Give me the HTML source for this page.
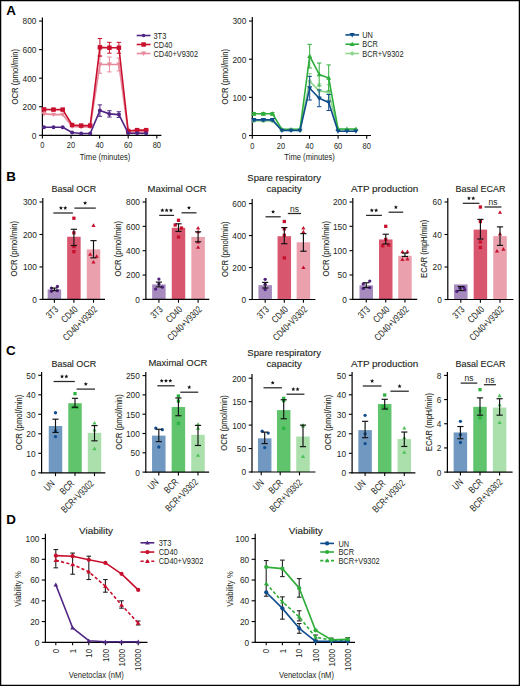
<!DOCTYPE html>
<html><head><meta charset="utf-8"><style>
html,body{margin:0;padding:0;background:#fff;width:520px;height:686px;overflow:hidden}
svg{display:block;font-family:"Liberation Sans", sans-serif}
</style></head><body>
<svg width="520" height="686" viewBox="0 0 520 686" font-family='"Liberation Sans", sans-serif'>
<rect x="0" y="0" width="520" height="686" fill="#fff"/>
<text transform="translate(6.3,10.6)" y="4.82" font-size="13.4" text-anchor="start" font-weight="bold" fill="#000">A</text>
<text transform="translate(6.3,176.5)" y="4.82" font-size="13.4" text-anchor="start" font-weight="bold" fill="#000">B</text>
<text transform="translate(6,350.6)" y="4.82" font-size="13.4" text-anchor="start" font-weight="bold" fill="#000">C</text>
<text transform="translate(6.3,519.3)" y="4.82" font-size="13.4" text-anchor="start" font-weight="bold" fill="#000">D</text>
<line x1="42.4" y1="17.4" x2="42.4" y2="135.85" stroke="#000" stroke-width="1.2" stroke-linecap="butt"/>
<line x1="41.8" y1="135.3" x2="161.4" y2="135.3" stroke="#000" stroke-width="1.2" stroke-linecap="butt"/>
<line x1="39.1" y1="135.3" x2="42.4" y2="135.3" stroke="#000" stroke-width="1.1" stroke-linecap="butt"/>
<text transform="translate(36.4,135.3)" y="3.4" font-size="8.3" text-anchor="end" fill="#231f20">0</text>
<line x1="39.1" y1="106.74" x2="42.4" y2="106.74" stroke="#000" stroke-width="1.1" stroke-linecap="butt"/>
<text transform="translate(36.4,106.74)" y="3.4" font-size="8.3" text-anchor="end" fill="#231f20">200</text>
<line x1="39.1" y1="78.18" x2="42.4" y2="78.18" stroke="#000" stroke-width="1.1" stroke-linecap="butt"/>
<text transform="translate(36.4,78.18)" y="3.4" font-size="8.3" text-anchor="end" fill="#231f20">400</text>
<line x1="39.1" y1="49.62" x2="42.4" y2="49.62" stroke="#000" stroke-width="1.1" stroke-linecap="butt"/>
<text transform="translate(36.4,49.62)" y="3.4" font-size="8.3" text-anchor="end" fill="#231f20">600</text>
<line x1="39.1" y1="21.06" x2="42.4" y2="21.06" stroke="#000" stroke-width="1.1" stroke-linecap="butt"/>
<text transform="translate(36.4,21.06)" y="3.4" font-size="8.3" text-anchor="end" fill="#231f20">800</text>
<line x1="42.4" y1="135.3" x2="42.4" y2="138.6" stroke="#000" stroke-width="1.1" stroke-linecap="butt"/>
<text transform="translate(42.4,145.4) scale(0.9,1)" y="2.99" font-size="8.3" text-anchor="middle" fill="#231f20">0</text>
<line x1="71" y1="135.3" x2="71" y2="138.6" stroke="#000" stroke-width="1.1" stroke-linecap="butt"/>
<text transform="translate(71,145.4) scale(0.9,1)" y="2.99" font-size="8.3" text-anchor="middle" fill="#231f20">20</text>
<line x1="99.6" y1="135.3" x2="99.6" y2="138.6" stroke="#000" stroke-width="1.1" stroke-linecap="butt"/>
<text transform="translate(99.6,145.4) scale(0.9,1)" y="2.99" font-size="8.3" text-anchor="middle" fill="#231f20">40</text>
<line x1="128.2" y1="135.3" x2="128.2" y2="138.6" stroke="#000" stroke-width="1.1" stroke-linecap="butt"/>
<text transform="translate(128.2,145.4) scale(0.9,1)" y="2.99" font-size="8.3" text-anchor="middle" fill="#231f20">60</text>
<line x1="156.8" y1="135.3" x2="156.8" y2="138.6" stroke="#000" stroke-width="1.1" stroke-linecap="butt"/>
<text transform="translate(156.8,145.4) scale(0.9,1)" y="2.99" font-size="8.3" text-anchor="middle" fill="#231f20">80</text>
<text transform="translate(105,160.1)" y="0" font-size="9.6" text-anchor="middle" textLength="50.5" lengthAdjust="spacingAndGlyphs" fill="#231f20">Time (minutes)</text>
<text transform="translate(14.6,76.75) rotate(-90)" y="3.24" font-size="9" text-anchor="middle" textLength="55.5" lengthAdjust="spacingAndGlyphs" fill="#231f20" stroke="#231f20" stroke-width="0.08">OCR (pmol/min)</text>
<line x1="99.9" y1="55.62" x2="99.9" y2="73.32" stroke="#e88a9c" stroke-width="1" stroke-linecap="butt"/>
<line x1="97.7" y1="55.62" x2="102.1" y2="55.62" stroke="#e88a9c" stroke-width="1" stroke-linecap="butt"/>
<line x1="97.7" y1="73.32" x2="102.1" y2="73.32" stroke="#e88a9c" stroke-width="1" stroke-linecap="butt"/>
<line x1="109.4" y1="57.05" x2="109.4" y2="71.9" stroke="#e88a9c" stroke-width="1" stroke-linecap="butt"/>
<line x1="107.2" y1="57.05" x2="111.6" y2="57.05" stroke="#e88a9c" stroke-width="1" stroke-linecap="butt"/>
<line x1="107.2" y1="71.9" x2="111.6" y2="71.9" stroke="#e88a9c" stroke-width="1" stroke-linecap="butt"/>
<line x1="118.9" y1="58.05" x2="118.9" y2="70.9" stroke="#e88a9c" stroke-width="1" stroke-linecap="butt"/>
<line x1="116.7" y1="58.05" x2="121.1" y2="58.05" stroke="#e88a9c" stroke-width="1" stroke-linecap="butt"/>
<line x1="116.7" y1="70.9" x2="121.1" y2="70.9" stroke="#e88a9c" stroke-width="1" stroke-linecap="butt"/>
<polyline points="44,113.88 53.5,114.59 62.7,114.59 72.1,126.45 81.2,127.02 90.2,127.02 99.9,64.47 109.4,64.47 118.9,64.47 128.2,132.44 137.1,131.73 146.1,131.73" fill="none" stroke="#e88a9c" stroke-width="1.6" stroke-linejoin="round"/>
<polygon points="44,116.39 41.45,112 46.55,112" fill="#e88a9c"/>
<polygon points="53.5,117.1 50.95,112.71 56.05,112.71" fill="#e88a9c"/>
<polygon points="62.7,117.1 60.15,112.71 65.25,112.71" fill="#e88a9c"/>
<polygon points="72.1,128.95 69.55,124.57 74.65,124.57" fill="#e88a9c"/>
<polygon points="81.2,129.53 78.65,125.14 83.75,125.14" fill="#e88a9c"/>
<polygon points="90.2,129.53 87.65,125.14 92.75,125.14" fill="#e88a9c"/>
<polygon points="99.9,66.98 97.35,62.59 102.45,62.59" fill="#e88a9c"/>
<polygon points="109.4,66.98 106.85,62.59 111.95,62.59" fill="#e88a9c"/>
<polygon points="118.9,66.98 116.35,62.59 121.45,62.59" fill="#e88a9c"/>
<polygon points="128.2,134.95 125.65,130.56 130.75,130.56" fill="#e88a9c"/>
<polygon points="137.1,134.24 134.55,129.85 139.65,129.85" fill="#e88a9c"/>
<polygon points="146.1,134.24 143.55,129.85 148.65,129.85" fill="#e88a9c"/>
<line x1="44" y1="108.31" x2="44" y2="110.6" stroke="#c8102e" stroke-width="1" stroke-linecap="butt"/>
<line x1="41.8" y1="108.31" x2="46.2" y2="108.31" stroke="#c8102e" stroke-width="1" stroke-linecap="butt"/>
<line x1="41.8" y1="110.6" x2="46.2" y2="110.6" stroke="#c8102e" stroke-width="1" stroke-linecap="butt"/>
<line x1="53.5" y1="108.88" x2="53.5" y2="110.31" stroke="#c8102e" stroke-width="1" stroke-linecap="butt"/>
<line x1="51.3" y1="108.88" x2="55.7" y2="108.88" stroke="#c8102e" stroke-width="1" stroke-linecap="butt"/>
<line x1="51.3" y1="110.31" x2="55.7" y2="110.31" stroke="#c8102e" stroke-width="1" stroke-linecap="butt"/>
<line x1="62.7" y1="108.88" x2="62.7" y2="110.31" stroke="#c8102e" stroke-width="1" stroke-linecap="butt"/>
<line x1="60.5" y1="108.88" x2="64.9" y2="108.88" stroke="#c8102e" stroke-width="1" stroke-linecap="butt"/>
<line x1="60.5" y1="110.31" x2="64.9" y2="110.31" stroke="#c8102e" stroke-width="1" stroke-linecap="butt"/>
<line x1="99.9" y1="38.48" x2="99.9" y2="56.19" stroke="#c8102e" stroke-width="1" stroke-linecap="butt"/>
<line x1="97.7" y1="38.48" x2="102.1" y2="38.48" stroke="#c8102e" stroke-width="1" stroke-linecap="butt"/>
<line x1="97.7" y1="56.19" x2="102.1" y2="56.19" stroke="#c8102e" stroke-width="1" stroke-linecap="butt"/>
<line x1="109.4" y1="42.34" x2="109.4" y2="53.19" stroke="#c8102e" stroke-width="1" stroke-linecap="butt"/>
<line x1="107.2" y1="42.34" x2="111.6" y2="42.34" stroke="#c8102e" stroke-width="1" stroke-linecap="butt"/>
<line x1="107.2" y1="53.19" x2="111.6" y2="53.19" stroke="#c8102e" stroke-width="1" stroke-linecap="butt"/>
<line x1="118.9" y1="42.34" x2="118.9" y2="53.19" stroke="#c8102e" stroke-width="1" stroke-linecap="butt"/>
<line x1="116.7" y1="42.34" x2="121.1" y2="42.34" stroke="#c8102e" stroke-width="1" stroke-linecap="butt"/>
<line x1="116.7" y1="53.19" x2="121.1" y2="53.19" stroke="#c8102e" stroke-width="1" stroke-linecap="butt"/>
<line x1="128.2" y1="130.3" x2="128.2" y2="131.73" stroke="#c8102e" stroke-width="1" stroke-linecap="butt"/>
<line x1="126" y1="130.3" x2="130.4" y2="130.3" stroke="#c8102e" stroke-width="1" stroke-linecap="butt"/>
<line x1="126" y1="131.73" x2="130.4" y2="131.73" stroke="#c8102e" stroke-width="1" stroke-linecap="butt"/>
<line x1="137.1" y1="129.59" x2="137.1" y2="130.73" stroke="#c8102e" stroke-width="1" stroke-linecap="butt"/>
<line x1="134.9" y1="129.59" x2="139.3" y2="129.59" stroke="#c8102e" stroke-width="1" stroke-linecap="butt"/>
<line x1="134.9" y1="130.73" x2="139.3" y2="130.73" stroke="#c8102e" stroke-width="1" stroke-linecap="butt"/>
<line x1="146.1" y1="129.59" x2="146.1" y2="130.73" stroke="#c8102e" stroke-width="1" stroke-linecap="butt"/>
<line x1="143.9" y1="129.59" x2="148.3" y2="129.59" stroke="#c8102e" stroke-width="1" stroke-linecap="butt"/>
<line x1="143.9" y1="130.73" x2="148.3" y2="130.73" stroke="#c8102e" stroke-width="1" stroke-linecap="butt"/>
<polyline points="44,109.45 53.5,109.6 62.7,109.6 72.1,125.02 81.2,125.59 90.2,125.59 99.9,47.34 109.4,47.76 118.9,47.76 128.2,131.02 137.1,130.16 146.1,130.16" fill="none" stroke="#c8102e" stroke-width="1.6" stroke-linejoin="round"/>
<rect x="41.75" y="107.2" width="4.5" height="4.5" fill="#c8102e"/>
<rect x="51.25" y="107.35" width="4.5" height="4.5" fill="#c8102e"/>
<rect x="60.45" y="107.35" width="4.5" height="4.5" fill="#c8102e"/>
<rect x="69.85" y="122.77" width="4.5" height="4.5" fill="#c8102e"/>
<rect x="78.95" y="123.34" width="4.5" height="4.5" fill="#c8102e"/>
<rect x="87.95" y="123.34" width="4.5" height="4.5" fill="#c8102e"/>
<rect x="97.65" y="45.09" width="4.5" height="4.5" fill="#c8102e"/>
<rect x="107.15" y="45.51" width="4.5" height="4.5" fill="#c8102e"/>
<rect x="116.65" y="45.51" width="4.5" height="4.5" fill="#c8102e"/>
<rect x="125.95" y="128.77" width="4.5" height="4.5" fill="#c8102e"/>
<rect x="134.85" y="127.91" width="4.5" height="4.5" fill="#c8102e"/>
<rect x="143.85" y="127.91" width="4.5" height="4.5" fill="#c8102e"/>
<line x1="99.9" y1="104.88" x2="99.9" y2="116.31" stroke="#4f2683" stroke-width="1" stroke-linecap="butt"/>
<line x1="97.7" y1="104.88" x2="102.1" y2="104.88" stroke="#4f2683" stroke-width="1" stroke-linecap="butt"/>
<line x1="97.7" y1="116.31" x2="102.1" y2="116.31" stroke="#4f2683" stroke-width="1" stroke-linecap="butt"/>
<line x1="109.4" y1="110.74" x2="109.4" y2="117.02" stroke="#4f2683" stroke-width="1" stroke-linecap="butt"/>
<line x1="107.2" y1="110.74" x2="111.6" y2="110.74" stroke="#4f2683" stroke-width="1" stroke-linecap="butt"/>
<line x1="107.2" y1="117.02" x2="111.6" y2="117.02" stroke="#4f2683" stroke-width="1" stroke-linecap="butt"/>
<line x1="118.9" y1="111.74" x2="118.9" y2="117.45" stroke="#4f2683" stroke-width="1" stroke-linecap="butt"/>
<line x1="116.7" y1="111.74" x2="121.1" y2="111.74" stroke="#4f2683" stroke-width="1" stroke-linecap="butt"/>
<line x1="116.7" y1="117.45" x2="121.1" y2="117.45" stroke="#4f2683" stroke-width="1" stroke-linecap="butt"/>
<polyline points="44,127.3 53.5,127.3 62.7,127.3 72.1,132.44 81.2,133.44 90.2,133.44 99.9,110.6 109.4,113.88 118.9,114.59 128.2,133.23 137.1,133.23 146.1,133.23" fill="none" stroke="#4f2683" stroke-width="1.6" stroke-linejoin="round"/>
<circle cx="44" cy="127.3" r="2" fill="#4f2683"/>
<circle cx="53.5" cy="127.3" r="2" fill="#4f2683"/>
<circle cx="62.7" cy="127.3" r="2" fill="#4f2683"/>
<circle cx="72.1" cy="132.44" r="2" fill="#4f2683"/>
<circle cx="81.2" cy="133.44" r="2" fill="#4f2683"/>
<circle cx="90.2" cy="133.44" r="2" fill="#4f2683"/>
<circle cx="99.9" cy="110.6" r="2" fill="#4f2683"/>
<circle cx="109.4" cy="113.88" r="2" fill="#4f2683"/>
<circle cx="118.9" cy="114.59" r="2" fill="#4f2683"/>
<circle cx="128.2" cy="133.23" r="2" fill="#4f2683"/>
<circle cx="137.1" cy="133.23" r="2" fill="#4f2683"/>
<circle cx="146.1" cy="133.23" r="2" fill="#4f2683"/>
<line x1="136.7" y1="35.5" x2="150.5" y2="35.5" stroke="#4f2683" stroke-width="1.6" stroke-linecap="butt"/>
<circle cx="143.6" cy="35.5" r="1.8" fill="#4f2683"/>
<text transform="translate(153.5,35.5) scale(0.86,1)" y="3.1" font-size="8.6" text-anchor="start" fill="#231f20">3T3</text>
<line x1="136.7" y1="44.5" x2="150.5" y2="44.5" stroke="#c8102e" stroke-width="1.6" stroke-linecap="butt"/>
<rect x="141.35" y="42.25" width="4.5" height="4.5" fill="#c8102e"/>
<text transform="translate(153.5,44.5) scale(0.86,1)" y="3.1" font-size="8.6" text-anchor="start" fill="#231f20">CD40</text>
<line x1="136.7" y1="53.5" x2="150.5" y2="53.5" stroke="#e88a9c" stroke-width="1.6" stroke-linecap="butt"/>
<polygon points="143.6,56.01 141.05,51.62 146.15,51.62" fill="#e88a9c"/>
<text transform="translate(153.5,53.5) scale(0.86,1)" y="3.1" font-size="8.6" text-anchor="start" fill="#231f20">CD40+V9302</text>
<line x1="252.3" y1="17.1" x2="252.3" y2="136.05" stroke="#000" stroke-width="1.2" stroke-linecap="butt"/>
<line x1="251.7" y1="135.5" x2="371" y2="135.5" stroke="#000" stroke-width="1.2" stroke-linecap="butt"/>
<line x1="249" y1="135.5" x2="252.3" y2="135.5" stroke="#000" stroke-width="1.1" stroke-linecap="butt"/>
<text transform="translate(246.3,135.5)" y="3.4" font-size="8.3" text-anchor="end" fill="#231f20">0</text>
<line x1="249" y1="97.35" x2="252.3" y2="97.35" stroke="#000" stroke-width="1.1" stroke-linecap="butt"/>
<text transform="translate(246.3,97.35)" y="3.4" font-size="8.3" text-anchor="end" fill="#231f20">100</text>
<line x1="249" y1="59.2" x2="252.3" y2="59.2" stroke="#000" stroke-width="1.1" stroke-linecap="butt"/>
<text transform="translate(246.3,59.2)" y="3.4" font-size="8.3" text-anchor="end" fill="#231f20">200</text>
<line x1="249" y1="21.05" x2="252.3" y2="21.05" stroke="#000" stroke-width="1.1" stroke-linecap="butt"/>
<text transform="translate(246.3,21.05)" y="3.4" font-size="8.3" text-anchor="end" fill="#231f20">300</text>
<line x1="252.3" y1="135.5" x2="252.3" y2="138.8" stroke="#000" stroke-width="1.1" stroke-linecap="butt"/>
<text transform="translate(252.3,145.6) scale(0.9,1)" y="2.99" font-size="8.3" text-anchor="middle" fill="#231f20">0</text>
<line x1="280.9" y1="135.5" x2="280.9" y2="138.8" stroke="#000" stroke-width="1.1" stroke-linecap="butt"/>
<text transform="translate(280.9,145.6) scale(0.9,1)" y="2.99" font-size="8.3" text-anchor="middle" fill="#231f20">20</text>
<line x1="309.5" y1="135.5" x2="309.5" y2="138.8" stroke="#000" stroke-width="1.1" stroke-linecap="butt"/>
<text transform="translate(309.5,145.6) scale(0.9,1)" y="2.99" font-size="8.3" text-anchor="middle" fill="#231f20">40</text>
<line x1="338.1" y1="135.5" x2="338.1" y2="138.8" stroke="#000" stroke-width="1.1" stroke-linecap="butt"/>
<text transform="translate(338.1,145.6) scale(0.9,1)" y="2.99" font-size="8.3" text-anchor="middle" fill="#231f20">60</text>
<line x1="366.7" y1="135.5" x2="366.7" y2="138.8" stroke="#000" stroke-width="1.1" stroke-linecap="butt"/>
<text transform="translate(366.7,145.6) scale(0.9,1)" y="2.99" font-size="8.3" text-anchor="middle" fill="#231f20">80</text>
<text transform="translate(309.6,160.1)" y="0" font-size="9.6" text-anchor="middle" textLength="50.5" lengthAdjust="spacingAndGlyphs" fill="#231f20">Time (minutes)</text>
<text transform="translate(224.5,76.75) rotate(-90)" y="3.24" font-size="9" text-anchor="middle" textLength="55.5" lengthAdjust="spacingAndGlyphs" fill="#231f20" stroke="#231f20" stroke-width="0.08">OCR (pmol/min)</text>
<line x1="309.7" y1="73.7" x2="309.7" y2="88.96" stroke="#8fd48f" stroke-width="1" stroke-linecap="butt"/>
<line x1="307.5" y1="73.7" x2="311.9" y2="73.7" stroke="#8fd48f" stroke-width="1" stroke-linecap="butt"/>
<line x1="307.5" y1="88.96" x2="311.9" y2="88.96" stroke="#8fd48f" stroke-width="1" stroke-linecap="butt"/>
<line x1="319.2" y1="84" x2="319.2" y2="97.73" stroke="#8fd48f" stroke-width="1" stroke-linecap="butt"/>
<line x1="317" y1="84" x2="321.4" y2="84" stroke="#8fd48f" stroke-width="1" stroke-linecap="butt"/>
<line x1="317" y1="97.73" x2="321.4" y2="97.73" stroke="#8fd48f" stroke-width="1" stroke-linecap="butt"/>
<line x1="328.7" y1="84.76" x2="328.7" y2="100.02" stroke="#8fd48f" stroke-width="1" stroke-linecap="butt"/>
<line x1="326.5" y1="84.76" x2="330.9" y2="84.76" stroke="#8fd48f" stroke-width="1" stroke-linecap="butt"/>
<line x1="326.5" y1="100.02" x2="330.9" y2="100.02" stroke="#8fd48f" stroke-width="1" stroke-linecap="butt"/>
<polyline points="253.8,121 263.3,121 272.5,121 281.9,130.16 291,130.16 300,130.16 309.7,81.33 319.2,90.86 328.7,92.39 338,129.78 346.9,129.78 355.9,129.78" fill="none" stroke="#8fd48f" stroke-width="1.6" stroke-linejoin="round"/>
<circle cx="253.8" cy="121" r="1.9" fill="#8fd48f"/>
<circle cx="263.3" cy="121" r="1.9" fill="#8fd48f"/>
<circle cx="272.5" cy="121" r="1.9" fill="#8fd48f"/>
<circle cx="281.9" cy="130.16" r="1.9" fill="#8fd48f"/>
<circle cx="291" cy="130.16" r="1.9" fill="#8fd48f"/>
<circle cx="300" cy="130.16" r="1.9" fill="#8fd48f"/>
<circle cx="309.7" cy="81.33" r="1.9" fill="#8fd48f"/>
<circle cx="319.2" cy="90.86" r="1.9" fill="#8fd48f"/>
<circle cx="328.7" cy="92.39" r="1.9" fill="#8fd48f"/>
<circle cx="338" cy="129.78" r="1.9" fill="#8fd48f"/>
<circle cx="346.9" cy="129.78" r="1.9" fill="#8fd48f"/>
<circle cx="355.9" cy="129.78" r="1.9" fill="#8fd48f"/>
<line x1="253.8" y1="112.61" x2="253.8" y2="114.9" stroke="#2fae3c" stroke-width="1" stroke-linecap="butt"/>
<line x1="251.6" y1="112.61" x2="256" y2="112.61" stroke="#2fae3c" stroke-width="1" stroke-linecap="butt"/>
<line x1="251.6" y1="114.9" x2="256" y2="114.9" stroke="#2fae3c" stroke-width="1" stroke-linecap="butt"/>
<line x1="263.3" y1="112.61" x2="263.3" y2="114.9" stroke="#2fae3c" stroke-width="1" stroke-linecap="butt"/>
<line x1="261.1" y1="112.61" x2="265.5" y2="112.61" stroke="#2fae3c" stroke-width="1" stroke-linecap="butt"/>
<line x1="261.1" y1="114.9" x2="265.5" y2="114.9" stroke="#2fae3c" stroke-width="1" stroke-linecap="butt"/>
<line x1="272.5" y1="112.61" x2="272.5" y2="114.9" stroke="#2fae3c" stroke-width="1" stroke-linecap="butt"/>
<line x1="270.3" y1="112.61" x2="274.7" y2="112.61" stroke="#2fae3c" stroke-width="1" stroke-linecap="butt"/>
<line x1="270.3" y1="114.9" x2="274.7" y2="114.9" stroke="#2fae3c" stroke-width="1" stroke-linecap="butt"/>
<line x1="309.7" y1="44.32" x2="309.7" y2="67.97" stroke="#2fae3c" stroke-width="1" stroke-linecap="butt"/>
<line x1="307.5" y1="44.32" x2="311.9" y2="44.32" stroke="#2fae3c" stroke-width="1" stroke-linecap="butt"/>
<line x1="307.5" y1="67.97" x2="311.9" y2="67.97" stroke="#2fae3c" stroke-width="1" stroke-linecap="butt"/>
<line x1="319.2" y1="63.02" x2="319.2" y2="85.91" stroke="#2fae3c" stroke-width="1" stroke-linecap="butt"/>
<line x1="317" y1="63.02" x2="321.4" y2="63.02" stroke="#2fae3c" stroke-width="1" stroke-linecap="butt"/>
<line x1="317" y1="85.91" x2="321.4" y2="85.91" stroke="#2fae3c" stroke-width="1" stroke-linecap="butt"/>
<line x1="328.7" y1="64.92" x2="328.7" y2="90.86" stroke="#2fae3c" stroke-width="1" stroke-linecap="butt"/>
<line x1="326.5" y1="64.92" x2="330.9" y2="64.92" stroke="#2fae3c" stroke-width="1" stroke-linecap="butt"/>
<line x1="326.5" y1="90.86" x2="330.9" y2="90.86" stroke="#2fae3c" stroke-width="1" stroke-linecap="butt"/>
<polyline points="253.8,113.75 263.3,113.75 272.5,113.75 281.9,129.4 291,129.4 300,129.4 309.7,56.15 319.2,74.46 328.7,77.89 338,129.01 346.9,129.01 355.9,129.01" fill="none" stroke="#2fae3c" stroke-width="1.6" stroke-linejoin="round"/>
<polygon points="253.8,111.25 251.25,115.64 256.35,115.64" fill="#2fae3c"/>
<polygon points="263.3,111.25 260.75,115.64 265.85,115.64" fill="#2fae3c"/>
<polygon points="272.5,111.25 269.95,115.64 275.05,115.64" fill="#2fae3c"/>
<polygon points="281.9,126.89 279.35,131.28 284.45,131.28" fill="#2fae3c"/>
<polygon points="291,126.89 288.45,131.28 293.55,131.28" fill="#2fae3c"/>
<polygon points="300,126.89 297.45,131.28 302.55,131.28" fill="#2fae3c"/>
<polygon points="309.7,53.64 307.15,58.03 312.25,58.03" fill="#2fae3c"/>
<polygon points="319.2,71.95 316.65,76.34 321.75,76.34" fill="#2fae3c"/>
<polygon points="328.7,75.39 326.15,79.77 331.25,79.77" fill="#2fae3c"/>
<polygon points="338,126.51 335.45,130.9 340.55,130.9" fill="#2fae3c"/>
<polygon points="346.9,126.51 344.35,130.9 349.45,130.9" fill="#2fae3c"/>
<polygon points="355.9,126.51 353.35,130.9 358.45,130.9" fill="#2fae3c"/>
<line x1="253.8" y1="118.71" x2="253.8" y2="121" stroke="#0f4c8c" stroke-width="1" stroke-linecap="butt"/>
<line x1="251.6" y1="118.71" x2="256" y2="118.71" stroke="#0f4c8c" stroke-width="1" stroke-linecap="butt"/>
<line x1="251.6" y1="121" x2="256" y2="121" stroke="#0f4c8c" stroke-width="1" stroke-linecap="butt"/>
<line x1="263.3" y1="118.71" x2="263.3" y2="121" stroke="#0f4c8c" stroke-width="1" stroke-linecap="butt"/>
<line x1="261.1" y1="118.71" x2="265.5" y2="118.71" stroke="#0f4c8c" stroke-width="1" stroke-linecap="butt"/>
<line x1="261.1" y1="121" x2="265.5" y2="121" stroke="#0f4c8c" stroke-width="1" stroke-linecap="butt"/>
<line x1="272.5" y1="118.71" x2="272.5" y2="121" stroke="#0f4c8c" stroke-width="1" stroke-linecap="butt"/>
<line x1="270.3" y1="118.71" x2="274.7" y2="118.71" stroke="#0f4c8c" stroke-width="1" stroke-linecap="butt"/>
<line x1="270.3" y1="121" x2="274.7" y2="121" stroke="#0f4c8c" stroke-width="1" stroke-linecap="butt"/>
<line x1="309.7" y1="76.37" x2="309.7" y2="100.02" stroke="#0f4c8c" stroke-width="1" stroke-linecap="butt"/>
<line x1="307.5" y1="76.37" x2="311.9" y2="76.37" stroke="#0f4c8c" stroke-width="1" stroke-linecap="butt"/>
<line x1="307.5" y1="100.02" x2="311.9" y2="100.02" stroke="#0f4c8c" stroke-width="1" stroke-linecap="butt"/>
<line x1="319.2" y1="89.91" x2="319.2" y2="106.7" stroke="#0f4c8c" stroke-width="1" stroke-linecap="butt"/>
<line x1="317" y1="89.91" x2="321.4" y2="89.91" stroke="#0f4c8c" stroke-width="1" stroke-linecap="butt"/>
<line x1="317" y1="106.7" x2="321.4" y2="106.7" stroke="#0f4c8c" stroke-width="1" stroke-linecap="butt"/>
<line x1="328.7" y1="94.49" x2="328.7" y2="110.51" stroke="#0f4c8c" stroke-width="1" stroke-linecap="butt"/>
<line x1="326.5" y1="94.49" x2="330.9" y2="94.49" stroke="#0f4c8c" stroke-width="1" stroke-linecap="butt"/>
<line x1="326.5" y1="110.51" x2="330.9" y2="110.51" stroke="#0f4c8c" stroke-width="1" stroke-linecap="butt"/>
<polyline points="253.8,119.86 263.3,119.86 272.5,119.86 281.9,130.54 291,130.54 300,130.54 309.7,88.19 319.2,98.3 328.7,102.5 338,131.3 346.9,131.3 355.9,131.3" fill="none" stroke="#0f4c8c" stroke-width="1.6" stroke-linejoin="round"/>
<polygon points="253.8,122.37 251.25,117.98 256.35,117.98" fill="#0f4c8c"/>
<polygon points="263.3,122.37 260.75,117.98 265.85,117.98" fill="#0f4c8c"/>
<polygon points="272.5,122.37 269.95,117.98 275.05,117.98" fill="#0f4c8c"/>
<polygon points="281.9,133.05 279.35,128.66 284.45,128.66" fill="#0f4c8c"/>
<polygon points="291,133.05 288.45,128.66 293.55,128.66" fill="#0f4c8c"/>
<polygon points="300,133.05 297.45,128.66 302.55,128.66" fill="#0f4c8c"/>
<polygon points="309.7,90.7 307.15,86.31 312.25,86.31" fill="#0f4c8c"/>
<polygon points="319.2,100.81 316.65,96.42 321.75,96.42" fill="#0f4c8c"/>
<polygon points="328.7,105.01 326.15,100.62 331.25,100.62" fill="#0f4c8c"/>
<polygon points="338,133.81 335.45,129.42 340.55,129.42" fill="#0f4c8c"/>
<polygon points="346.9,133.81 344.35,129.42 349.45,129.42" fill="#0f4c8c"/>
<polygon points="355.9,133.81 353.35,129.42 358.45,129.42" fill="#0f4c8c"/>
<line x1="345.4" y1="34.9" x2="359.1" y2="34.9" stroke="#0f4c8c" stroke-width="1.6" stroke-linecap="butt"/>
<polygon points="352.2,37.41 349.65,33.02 354.75,33.02" fill="#0f4c8c"/>
<text transform="translate(362.2,34.9) scale(0.86,1)" y="3.1" font-size="8.6" text-anchor="start" fill="#231f20">UN</text>
<line x1="345.4" y1="44.2" x2="359.1" y2="44.2" stroke="#2fae3c" stroke-width="1.6" stroke-linecap="butt"/>
<polygon points="352.2,41.69 349.65,46.08 354.75,46.08" fill="#2fae3c"/>
<text transform="translate(362.2,44.2) scale(0.86,1)" y="3.1" font-size="8.6" text-anchor="start" fill="#231f20">BCR</text>
<line x1="345.4" y1="53.5" x2="359.1" y2="53.5" stroke="#8fd48f" stroke-width="1.6" stroke-linecap="butt"/>
<circle cx="352.2" cy="53.5" r="1.9" fill="#8fd48f"/>
<text transform="translate(362.2,53.5) scale(0.86,1)" y="3.1" font-size="8.6" text-anchor="start" fill="#231f20">BCR+V9302</text>
<rect x="47.65" y="289.34" width="13.5" height="10.06" fill="#a78bbf"/>
<rect x="67.15" y="236.74" width="13.5" height="62.66" fill="#d9566f"/>
<rect x="86.75" y="249.4" width="13.5" height="50" fill="#eaa0ad"/>
<line x1="42.8" y1="197.9" x2="42.8" y2="299.95" stroke="#000" stroke-width="1.2" stroke-linecap="butt"/>
<line x1="42.2" y1="299.4" x2="105" y2="299.4" stroke="#000" stroke-width="1.2" stroke-linecap="butt"/>
<line x1="39.5" y1="299.4" x2="42.8" y2="299.4" stroke="#000" stroke-width="1.1" stroke-linecap="butt"/>
<text transform="translate(36.8,299.4)" y="3.4" font-size="8.3" text-anchor="end" fill="#231f20">0</text>
<line x1="39.5" y1="266.93" x2="42.8" y2="266.93" stroke="#000" stroke-width="1.1" stroke-linecap="butt"/>
<text transform="translate(36.8,266.93)" y="3.4" font-size="8.3" text-anchor="end" fill="#231f20">100</text>
<line x1="39.5" y1="234.47" x2="42.8" y2="234.47" stroke="#000" stroke-width="1.1" stroke-linecap="butt"/>
<text transform="translate(36.8,234.47)" y="3.4" font-size="8.3" text-anchor="end" fill="#231f20">200</text>
<line x1="39.5" y1="202" x2="42.8" y2="202" stroke="#000" stroke-width="1.1" stroke-linecap="butt"/>
<text transform="translate(36.8,202)" y="3.4" font-size="8.3" text-anchor="end" fill="#231f20">300</text>
<line x1="54.4" y1="299.4" x2="54.4" y2="302.7" stroke="#000" stroke-width="1.1" stroke-linecap="butt"/>
<text transform="translate(56.3,307.7) rotate(-45) scale(0.76,1)" y="3.46" font-size="9.6" text-anchor="end" fill="#231f20">3T3</text>
<line x1="73.9" y1="299.4" x2="73.9" y2="302.7" stroke="#000" stroke-width="1.1" stroke-linecap="butt"/>
<text transform="translate(75.8,307.7) rotate(-45) scale(0.76,1)" y="3.46" font-size="9.6" text-anchor="end" fill="#231f20">CD40</text>
<line x1="93.5" y1="299.4" x2="93.5" y2="302.7" stroke="#000" stroke-width="1.1" stroke-linecap="butt"/>
<text transform="translate(95.4,307.7) rotate(-45) scale(0.76,1)" y="3.46" font-size="9.6" text-anchor="end" fill="#231f20">CD40+V9302</text>
<circle cx="51.4" cy="288.04" r="1.65" fill="#4f2080"/>
<circle cx="57.4" cy="286.41" r="1.65" fill="#4f2080"/>
<circle cx="51.4" cy="291.28" r="1.65" fill="#4f2080"/>
<circle cx="57.4" cy="290.63" r="1.65" fill="#4f2080"/>
<rect x="72.25" y="216.58" width="3.3" height="3.3" fill="#c8102e"/>
<rect x="72.25" y="231.19" width="3.3" height="3.3" fill="#c8102e"/>
<rect x="72.25" y="244.83" width="3.3" height="3.3" fill="#c8102e"/>
<rect x="72.25" y="250.02" width="3.3" height="3.3" fill="#c8102e"/>
<polygon points="93.5,223.32 91.41,226.91 95.59,226.91" fill="#c8102e"/>
<polygon points="90.2,252.22 88.11,255.81 92.29,255.81" fill="#c8102e"/>
<polygon points="96.7,254.17 94.61,257.76 98.79,257.76" fill="#c8102e"/>
<polygon points="93.5,260.01 91.41,263.6 95.59,263.6" fill="#c8102e"/>
<line x1="54.4" y1="288.04" x2="54.4" y2="290.63" stroke="#111" stroke-width="1.15" stroke-linecap="butt"/>
<line x1="51.3" y1="288.04" x2="57.5" y2="288.04" stroke="#111" stroke-width="1.15" stroke-linecap="butt"/>
<line x1="51.3" y1="290.63" x2="57.5" y2="290.63" stroke="#111" stroke-width="1.15" stroke-linecap="butt"/>
<line x1="73.9" y1="229.27" x2="73.9" y2="245.51" stroke="#111" stroke-width="1.15" stroke-linecap="butt"/>
<line x1="70.8" y1="229.27" x2="77" y2="229.27" stroke="#111" stroke-width="1.15" stroke-linecap="butt"/>
<line x1="70.8" y1="245.51" x2="77" y2="245.51" stroke="#111" stroke-width="1.15" stroke-linecap="butt"/>
<line x1="93.5" y1="240.64" x2="93.5" y2="257.84" stroke="#111" stroke-width="1.15" stroke-linecap="butt"/>
<line x1="90.4" y1="240.64" x2="96.6" y2="240.64" stroke="#111" stroke-width="1.15" stroke-linecap="butt"/>
<line x1="90.4" y1="257.84" x2="96.6" y2="257.84" stroke="#111" stroke-width="1.15" stroke-linecap="butt"/>
<line x1="53.3" y1="213" x2="72.9" y2="213" stroke="#262626" stroke-width="1.25" stroke-linecap="butt"/>
<polygon points="60.95,205.85 61.52,207.22 62.99,207.34 61.87,208.3 62.21,209.74 60.95,208.97 59.69,209.74 60.03,208.3 58.91,207.34 60.38,207.22" fill="#111"/>
<polygon points="65.25,205.85 65.82,207.22 67.29,207.34 66.17,208.3 66.51,209.74 65.25,208.97 63.99,209.74 64.33,208.3 63.21,207.34 64.68,207.22" fill="#111"/>
<line x1="74.4" y1="208.1" x2="95.8" y2="208.1" stroke="#262626" stroke-width="1.25" stroke-linecap="butt"/>
<polygon points="85.1,200.95 85.67,202.32 87.14,202.44 86.02,203.4 86.36,204.84 85.1,204.07 83.84,204.84 84.18,203.4 83.06,202.44 84.53,202.32" fill="#111"/>
<text transform="translate(73.85,191.6)" y="0" font-size="9.8" text-anchor="middle" textLength="44.8" lengthAdjust="spacingAndGlyphs" fill="#231f20" stroke="#231f20" stroke-width="0.12">Basal OCR</text>
<text transform="translate(14.2,248.65) rotate(-90)" y="3.24" font-size="9" text-anchor="middle" textLength="55.5" lengthAdjust="spacingAndGlyphs" fill="#231f20" stroke="#231f20" stroke-width="0.08">OCR (pmol/min)</text>
<rect x="152.15" y="284.42" width="13.5" height="14.98" fill="#a78bbf"/>
<rect x="171.75" y="227.81" width="13.5" height="71.59" fill="#d9566f"/>
<rect x="191.35" y="236.94" width="13.5" height="62.46" fill="#eaa0ad"/>
<line x1="145.9" y1="197.9" x2="145.9" y2="299.95" stroke="#000" stroke-width="1.2" stroke-linecap="butt"/>
<line x1="145.3" y1="299.4" x2="209.3" y2="299.4" stroke="#000" stroke-width="1.2" stroke-linecap="butt"/>
<line x1="142.6" y1="299.4" x2="145.9" y2="299.4" stroke="#000" stroke-width="1.1" stroke-linecap="butt"/>
<text transform="translate(139.9,299.4)" y="3.4" font-size="8.3" text-anchor="end" fill="#231f20">0</text>
<line x1="142.6" y1="275.05" x2="145.9" y2="275.05" stroke="#000" stroke-width="1.1" stroke-linecap="butt"/>
<text transform="translate(139.9,275.05)" y="3.4" font-size="8.3" text-anchor="end" fill="#231f20">200</text>
<line x1="142.6" y1="250.7" x2="145.9" y2="250.7" stroke="#000" stroke-width="1.1" stroke-linecap="butt"/>
<text transform="translate(139.9,250.7)" y="3.4" font-size="8.3" text-anchor="end" fill="#231f20">400</text>
<line x1="142.6" y1="226.35" x2="145.9" y2="226.35" stroke="#000" stroke-width="1.1" stroke-linecap="butt"/>
<text transform="translate(139.9,226.35)" y="3.4" font-size="8.3" text-anchor="end" fill="#231f20">600</text>
<line x1="142.6" y1="202" x2="145.9" y2="202" stroke="#000" stroke-width="1.1" stroke-linecap="butt"/>
<text transform="translate(139.9,202)" y="3.4" font-size="8.3" text-anchor="end" fill="#231f20">800</text>
<line x1="158.9" y1="299.4" x2="158.9" y2="302.7" stroke="#000" stroke-width="1.1" stroke-linecap="butt"/>
<text transform="translate(160.8,307.7) rotate(-45) scale(0.76,1)" y="3.46" font-size="9.6" text-anchor="end" fill="#231f20">3T3</text>
<line x1="178.5" y1="299.4" x2="178.5" y2="302.7" stroke="#000" stroke-width="1.1" stroke-linecap="butt"/>
<text transform="translate(180.4,307.7) rotate(-45) scale(0.76,1)" y="3.46" font-size="9.6" text-anchor="end" fill="#231f20">CD40</text>
<line x1="198.1" y1="299.4" x2="198.1" y2="302.7" stroke="#000" stroke-width="1.1" stroke-linecap="butt"/>
<text transform="translate(200,307.7) rotate(-45) scale(0.76,1)" y="3.46" font-size="9.6" text-anchor="end" fill="#231f20">CD40+V9302</text>
<circle cx="158.9" cy="279.07" r="1.65" fill="#4f2080"/>
<circle cx="158.9" cy="283.94" r="1.65" fill="#4f2080"/>
<circle cx="155.6" cy="289.05" r="1.65" fill="#4f2080"/>
<circle cx="162.4" cy="287.22" r="1.65" fill="#4f2080"/>
<rect x="176.85" y="218.61" width="3.3" height="3.3" fill="#c8102e"/>
<rect x="173.55" y="223.36" width="3.3" height="3.3" fill="#c8102e"/>
<rect x="179.85" y="226.4" width="3.3" height="3.3" fill="#c8102e"/>
<rect x="176.85" y="235.41" width="3.3" height="3.3" fill="#c8102e"/>
<polygon points="198.1,225.88 196.01,229.47 200.19,229.47" fill="#c8102e"/>
<polygon points="198.1,229.66 196.01,233.25 200.19,233.25" fill="#c8102e"/>
<polygon points="198.1,239.88 196.01,243.47 200.19,243.47" fill="#c8102e"/>
<polygon points="198.1,245.24 196.01,248.83 200.19,248.83" fill="#c8102e"/>
<line x1="158.9" y1="282.11" x2="158.9" y2="286.86" stroke="#111" stroke-width="1.15" stroke-linecap="butt"/>
<line x1="155.8" y1="282.11" x2="162" y2="282.11" stroke="#111" stroke-width="1.15" stroke-linecap="butt"/>
<line x1="155.8" y1="286.86" x2="162" y2="286.86" stroke="#111" stroke-width="1.15" stroke-linecap="butt"/>
<line x1="178.5" y1="223.79" x2="178.5" y2="231.46" stroke="#111" stroke-width="1.15" stroke-linecap="butt"/>
<line x1="175.4" y1="223.79" x2="181.6" y2="223.79" stroke="#111" stroke-width="1.15" stroke-linecap="butt"/>
<line x1="175.4" y1="231.46" x2="181.6" y2="231.46" stroke="#111" stroke-width="1.15" stroke-linecap="butt"/>
<line x1="198.1" y1="231.83" x2="198.1" y2="241.81" stroke="#111" stroke-width="1.15" stroke-linecap="butt"/>
<line x1="195" y1="231.83" x2="201.2" y2="231.83" stroke="#111" stroke-width="1.15" stroke-linecap="butt"/>
<line x1="195" y1="241.81" x2="201.2" y2="241.81" stroke="#111" stroke-width="1.15" stroke-linecap="butt"/>
<line x1="159.2" y1="215.4" x2="174.1" y2="215.4" stroke="#262626" stroke-width="1.25" stroke-linecap="butt"/>
<polygon points="162.35,208.25 162.92,209.62 164.39,209.74 163.27,210.7 163.61,212.14 162.35,211.37 161.09,212.14 161.43,210.7 160.31,209.74 161.78,209.62" fill="#111"/>
<polygon points="166.65,208.25 167.22,209.62 168.69,209.74 167.57,210.7 167.91,212.14 166.65,211.37 165.39,212.14 165.73,210.7 164.61,209.74 166.08,209.62" fill="#111"/>
<polygon points="170.95,208.25 171.52,209.62 172.99,209.74 171.87,210.7 172.21,212.14 170.95,211.37 169.69,212.14 170.03,210.7 168.91,209.74 170.38,209.62" fill="#111"/>
<line x1="181.5" y1="212.8" x2="196.5" y2="212.8" stroke="#262626" stroke-width="1.25" stroke-linecap="butt"/>
<polygon points="189,205.65 189.57,207.02 191.04,207.14 189.92,208.1 190.26,209.54 189,208.77 187.74,209.54 188.08,208.1 186.96,207.14 188.43,207.02" fill="#111"/>
<text transform="translate(177.1,191.6)" y="0" font-size="9.8" text-anchor="middle" textLength="59.3" lengthAdjust="spacingAndGlyphs" fill="#231f20" stroke="#231f20" stroke-width="0.12">Maximal OCR</text>
<text transform="translate(118.2,248.65) rotate(-90)" y="3.24" font-size="9" text-anchor="middle" textLength="55.5" lengthAdjust="spacingAndGlyphs" fill="#231f20" stroke="#231f20" stroke-width="0.08">OCR (pmol/min)</text>
<rect x="258.45" y="285.12" width="13.5" height="14.38" fill="#a78bbf"/>
<rect x="277.55" y="236.21" width="13.5" height="63.29" fill="#d9566f"/>
<rect x="296.65" y="242.28" width="13.5" height="57.22" fill="#eaa0ad"/>
<line x1="252.2" y1="199" x2="252.2" y2="300.05" stroke="#000" stroke-width="1.2" stroke-linecap="butt"/>
<line x1="251.6" y1="299.5" x2="315.4" y2="299.5" stroke="#000" stroke-width="1.2" stroke-linecap="butt"/>
<line x1="248.9" y1="299.5" x2="252.2" y2="299.5" stroke="#000" stroke-width="1.1" stroke-linecap="butt"/>
<text transform="translate(246.2,299.5)" y="3.4" font-size="8.3" text-anchor="end" fill="#231f20">0</text>
<line x1="248.9" y1="267.53" x2="252.2" y2="267.53" stroke="#000" stroke-width="1.1" stroke-linecap="butt"/>
<text transform="translate(246.2,267.53)" y="3.4" font-size="8.3" text-anchor="end" fill="#231f20">200</text>
<line x1="248.9" y1="235.57" x2="252.2" y2="235.57" stroke="#000" stroke-width="1.1" stroke-linecap="butt"/>
<text transform="translate(246.2,235.57)" y="3.4" font-size="8.3" text-anchor="end" fill="#231f20">400</text>
<line x1="248.9" y1="203.6" x2="252.2" y2="203.6" stroke="#000" stroke-width="1.1" stroke-linecap="butt"/>
<text transform="translate(246.2,203.6)" y="3.4" font-size="8.3" text-anchor="end" fill="#231f20">600</text>
<line x1="265.2" y1="299.5" x2="265.2" y2="302.8" stroke="#000" stroke-width="1.1" stroke-linecap="butt"/>
<text transform="translate(267.1,307.8) rotate(-45) scale(0.76,1)" y="3.46" font-size="9.6" text-anchor="end" fill="#231f20">3T3</text>
<line x1="284.3" y1="299.5" x2="284.3" y2="302.8" stroke="#000" stroke-width="1.1" stroke-linecap="butt"/>
<text transform="translate(286.2,307.8) rotate(-45) scale(0.76,1)" y="3.46" font-size="9.6" text-anchor="end" fill="#231f20">CD40</text>
<line x1="303.4" y1="299.5" x2="303.4" y2="302.8" stroke="#000" stroke-width="1.1" stroke-linecap="butt"/>
<text transform="translate(305.3,307.8) rotate(-45) scale(0.76,1)" y="3.46" font-size="9.6" text-anchor="end" fill="#231f20">CD40+V9302</text>
<circle cx="265.2" cy="279.36" r="1.65" fill="#4f2080"/>
<circle cx="265.2" cy="284.32" r="1.65" fill="#4f2080"/>
<circle cx="265.2" cy="289.59" r="1.65" fill="#4f2080"/>
<rect x="282.65" y="219.85" width="3.3" height="3.3" fill="#c8102e"/>
<rect x="282.65" y="227.2" width="3.3" height="3.3" fill="#c8102e"/>
<rect x="282.65" y="233.6" width="3.3" height="3.3" fill="#c8102e"/>
<rect x="282.65" y="256.29" width="3.3" height="3.3" fill="#c8102e"/>
<polygon points="303.4,226 301.31,229.59 305.49,229.59" fill="#c8102e"/>
<polygon points="303.4,229.84 301.31,233.43 305.49,233.43" fill="#c8102e"/>
<polygon points="303.4,265.48 301.31,269.07 305.49,269.07" fill="#c8102e"/>
<line x1="265.2" y1="282.4" x2="265.2" y2="287.99" stroke="#111" stroke-width="1.15" stroke-linecap="butt"/>
<line x1="262.1" y1="282.4" x2="268.3" y2="282.4" stroke="#111" stroke-width="1.15" stroke-linecap="butt"/>
<line x1="262.1" y1="287.99" x2="268.3" y2="287.99" stroke="#111" stroke-width="1.15" stroke-linecap="butt"/>
<line x1="284.3" y1="227.57" x2="284.3" y2="243.72" stroke="#111" stroke-width="1.15" stroke-linecap="butt"/>
<line x1="281.2" y1="227.57" x2="287.4" y2="227.57" stroke="#111" stroke-width="1.15" stroke-linecap="butt"/>
<line x1="281.2" y1="243.72" x2="287.4" y2="243.72" stroke="#111" stroke-width="1.15" stroke-linecap="butt"/>
<line x1="303.4" y1="233.65" x2="303.4" y2="251.23" stroke="#111" stroke-width="1.15" stroke-linecap="butt"/>
<line x1="300.3" y1="233.65" x2="306.5" y2="233.65" stroke="#111" stroke-width="1.15" stroke-linecap="butt"/>
<line x1="300.3" y1="251.23" x2="306.5" y2="251.23" stroke="#111" stroke-width="1.15" stroke-linecap="butt"/>
<line x1="265.5" y1="216.8" x2="280.7" y2="216.8" stroke="#262626" stroke-width="1.25" stroke-linecap="butt"/>
<polygon points="273.1,209.65 273.67,211.02 275.14,211.14 274.02,212.1 274.36,213.54 273.1,212.77 271.84,213.54 272.18,212.1 271.06,211.14 272.53,211.02" fill="#111"/>
<line x1="287.8" y1="213.5" x2="301.1" y2="213.5" stroke="#262626" stroke-width="1.25" stroke-linecap="butt"/>
<text transform="translate(294.45,208.5) scale(0.92,1)" y="3.31" font-size="9.2" text-anchor="middle" fill="#231f20">ns</text>
<text transform="translate(284.15,180.5)" y="0" font-size="9.8" text-anchor="middle" textLength="73.6" lengthAdjust="spacingAndGlyphs" fill="#231f20" stroke="#231f20" stroke-width="0.12">Spare respiratory</text>
<text transform="translate(284.1,191.6)" y="0" font-size="9.8" text-anchor="middle" textLength="35.2" lengthAdjust="spacingAndGlyphs" fill="#231f20" stroke="#231f20" stroke-width="0.12">capacity</text>
<text transform="translate(225,249.25) rotate(-90)" y="3.24" font-size="9" text-anchor="middle" textLength="55.5" lengthAdjust="spacingAndGlyphs" fill="#231f20" stroke="#231f20" stroke-width="0.08">OCR (pmol/min)</text>
<rect x="359.5" y="285.29" width="13.5" height="14.01" fill="#a78bbf"/>
<rect x="379" y="239.46" width="13.5" height="59.84" fill="#d9566f"/>
<rect x="398.2" y="255.76" width="13.5" height="43.54" fill="#eaa0ad"/>
<line x1="352.8" y1="198" x2="352.8" y2="299.85" stroke="#000" stroke-width="1.2" stroke-linecap="butt"/>
<line x1="352.2" y1="299.3" x2="417.2" y2="299.3" stroke="#000" stroke-width="1.2" stroke-linecap="butt"/>
<line x1="349.5" y1="299.3" x2="352.8" y2="299.3" stroke="#000" stroke-width="1.1" stroke-linecap="butt"/>
<text transform="translate(346.8,299.3)" y="3.4" font-size="8.3" text-anchor="end" fill="#231f20">0</text>
<line x1="349.5" y1="274.98" x2="352.8" y2="274.98" stroke="#000" stroke-width="1.1" stroke-linecap="butt"/>
<text transform="translate(346.8,274.98)" y="3.4" font-size="8.3" text-anchor="end" fill="#231f20">50</text>
<line x1="349.5" y1="250.65" x2="352.8" y2="250.65" stroke="#000" stroke-width="1.1" stroke-linecap="butt"/>
<text transform="translate(346.8,250.65)" y="3.4" font-size="8.3" text-anchor="end" fill="#231f20">100</text>
<line x1="349.5" y1="226.32" x2="352.8" y2="226.32" stroke="#000" stroke-width="1.1" stroke-linecap="butt"/>
<text transform="translate(346.8,226.32)" y="3.4" font-size="8.3" text-anchor="end" fill="#231f20">150</text>
<line x1="349.5" y1="202" x2="352.8" y2="202" stroke="#000" stroke-width="1.1" stroke-linecap="butt"/>
<text transform="translate(346.8,202)" y="3.4" font-size="8.3" text-anchor="end" fill="#231f20">200</text>
<line x1="366.25" y1="299.3" x2="366.25" y2="302.6" stroke="#000" stroke-width="1.1" stroke-linecap="butt"/>
<text transform="translate(368.15,307.6) rotate(-45) scale(0.76,1)" y="3.46" font-size="9.6" text-anchor="end" fill="#231f20">3T3</text>
<line x1="385.75" y1="299.3" x2="385.75" y2="302.6" stroke="#000" stroke-width="1.1" stroke-linecap="butt"/>
<text transform="translate(387.65,307.6) rotate(-45) scale(0.76,1)" y="3.46" font-size="9.6" text-anchor="end" fill="#231f20">CD40</text>
<line x1="404.95" y1="299.3" x2="404.95" y2="302.6" stroke="#000" stroke-width="1.1" stroke-linecap="butt"/>
<text transform="translate(406.85,307.6) rotate(-45) scale(0.76,1)" y="3.46" font-size="9.6" text-anchor="end" fill="#231f20">CD40+V9302</text>
<circle cx="363.25" cy="283.88" r="1.65" fill="#4f2080"/>
<circle cx="369.75" cy="281.06" r="1.65" fill="#4f2080"/>
<circle cx="363.25" cy="288.45" r="1.65" fill="#4f2080"/>
<circle cx="369.75" cy="287.62" r="1.65" fill="#4f2080"/>
<rect x="384.1" y="224.67" width="3.3" height="3.3" fill="#c8102e"/>
<rect x="384.1" y="237.81" width="3.3" height="3.3" fill="#c8102e"/>
<rect x="381.1" y="244.13" width="3.3" height="3.3" fill="#c8102e"/>
<rect x="387.1" y="243.41" width="3.3" height="3.3" fill="#c8102e"/>
<polygon points="402.45,249.77 400.36,253.36 404.54,253.36" fill="#c8102e"/>
<polygon points="407.45,249.57 405.36,253.16 409.54,253.16" fill="#c8102e"/>
<polygon points="402.45,257.36 400.36,260.95 404.54,260.95" fill="#c8102e"/>
<polygon points="407.45,256.87 405.36,260.46 409.54,260.46" fill="#c8102e"/>
<line x1="366.25" y1="282.76" x2="366.25" y2="287.62" stroke="#111" stroke-width="1.15" stroke-linecap="butt"/>
<line x1="363.15" y1="282.76" x2="369.35" y2="282.76" stroke="#111" stroke-width="1.15" stroke-linecap="butt"/>
<line x1="363.15" y1="287.62" x2="369.35" y2="287.62" stroke="#111" stroke-width="1.15" stroke-linecap="butt"/>
<line x1="385.75" y1="234.21" x2="385.75" y2="243.94" stroke="#111" stroke-width="1.15" stroke-linecap="butt"/>
<line x1="382.65" y1="234.21" x2="388.85" y2="234.21" stroke="#111" stroke-width="1.15" stroke-linecap="butt"/>
<line x1="382.65" y1="243.94" x2="388.85" y2="243.94" stroke="#111" stroke-width="1.15" stroke-linecap="butt"/>
<line x1="404.95" y1="253.08" x2="404.95" y2="256.49" stroke="#111" stroke-width="1.15" stroke-linecap="butt"/>
<line x1="401.85" y1="253.08" x2="408.05" y2="253.08" stroke="#111" stroke-width="1.15" stroke-linecap="butt"/>
<line x1="401.85" y1="256.49" x2="408.05" y2="256.49" stroke="#111" stroke-width="1.15" stroke-linecap="butt"/>
<line x1="366.1" y1="215.4" x2="381.9" y2="215.4" stroke="#262626" stroke-width="1.25" stroke-linecap="butt"/>
<polygon points="371.85,208.25 372.42,209.62 373.89,209.74 372.77,210.7 373.11,212.14 371.85,211.37 370.59,212.14 370.93,210.7 369.81,209.74 371.28,209.62" fill="#111"/>
<polygon points="376.15,208.25 376.72,209.62 378.19,209.74 377.07,210.7 377.41,212.14 376.15,211.37 374.89,212.14 375.23,210.7 374.11,209.74 375.58,209.62" fill="#111"/>
<line x1="388.6" y1="212.2" x2="403.2" y2="212.2" stroke="#262626" stroke-width="1.25" stroke-linecap="butt"/>
<polygon points="395.9,205.05 396.47,206.42 397.94,206.54 396.82,207.5 397.16,208.94 395.9,208.17 394.64,208.94 394.98,207.5 393.86,206.54 395.33,206.42" fill="#111"/>
<text transform="translate(384.65,191.6)" y="0" font-size="9.8" text-anchor="middle" textLength="67.2" lengthAdjust="spacingAndGlyphs" fill="#231f20" stroke="#231f20" stroke-width="0.12">ATP production</text>
<text transform="translate(325.3,248.65) rotate(-90)" y="3.24" font-size="9" text-anchor="middle" textLength="55.5" lengthAdjust="spacingAndGlyphs" fill="#231f20" stroke="#231f20" stroke-width="0.08">OCR (pmol/min)</text>
<rect x="454.05" y="284.39" width="13.5" height="15.11" fill="#a78bbf"/>
<rect x="473.65" y="229.62" width="13.5" height="69.88" fill="#d9566f"/>
<rect x="493.25" y="236.12" width="13.5" height="63.38" fill="#eaa0ad"/>
<line x1="447.8" y1="198" x2="447.8" y2="300.05" stroke="#000" stroke-width="1.2" stroke-linecap="butt"/>
<line x1="447.2" y1="299.5" x2="513.4" y2="299.5" stroke="#000" stroke-width="1.2" stroke-linecap="butt"/>
<line x1="444.5" y1="299.5" x2="447.8" y2="299.5" stroke="#000" stroke-width="1.1" stroke-linecap="butt"/>
<text transform="translate(441.8,299.5)" y="3.4" font-size="8.3" text-anchor="end" fill="#231f20">0</text>
<line x1="444.5" y1="267" x2="447.8" y2="267" stroke="#000" stroke-width="1.1" stroke-linecap="butt"/>
<text transform="translate(441.8,267)" y="3.4" font-size="8.3" text-anchor="end" fill="#231f20">20</text>
<line x1="444.5" y1="234.5" x2="447.8" y2="234.5" stroke="#000" stroke-width="1.1" stroke-linecap="butt"/>
<text transform="translate(441.8,234.5)" y="3.4" font-size="8.3" text-anchor="end" fill="#231f20">40</text>
<line x1="444.5" y1="202" x2="447.8" y2="202" stroke="#000" stroke-width="1.1" stroke-linecap="butt"/>
<text transform="translate(441.8,202)" y="3.4" font-size="8.3" text-anchor="end" fill="#231f20">60</text>
<line x1="460.8" y1="299.5" x2="460.8" y2="302.8" stroke="#000" stroke-width="1.1" stroke-linecap="butt"/>
<text transform="translate(462.7,307.8) rotate(-45) scale(0.76,1)" y="3.46" font-size="9.6" text-anchor="end" fill="#231f20">3T3</text>
<line x1="480.4" y1="299.5" x2="480.4" y2="302.8" stroke="#000" stroke-width="1.1" stroke-linecap="butt"/>
<text transform="translate(482.3,307.8) rotate(-45) scale(0.76,1)" y="3.46" font-size="9.6" text-anchor="end" fill="#231f20">CD40</text>
<line x1="500" y1="299.5" x2="500" y2="302.8" stroke="#000" stroke-width="1.1" stroke-linecap="butt"/>
<text transform="translate(501.9,307.8) rotate(-45) scale(0.76,1)" y="3.46" font-size="9.6" text-anchor="end" fill="#231f20">CD40+V9302</text>
<circle cx="456.8" cy="291.38" r="1.65" fill="#4f2080"/>
<circle cx="464.8" cy="289.75" r="1.65" fill="#4f2080"/>
<circle cx="459.8" cy="288.12" r="1.65" fill="#4f2080"/>
<circle cx="463.8" cy="287.31" r="1.65" fill="#4f2080"/>
<rect x="478.75" y="205.39" width="3.3" height="3.3" fill="#c8102e"/>
<rect x="478.75" y="219.85" width="3.3" height="3.3" fill="#c8102e"/>
<rect x="478.75" y="240.32" width="3.3" height="3.3" fill="#c8102e"/>
<rect x="478.75" y="245.85" width="3.3" height="3.3" fill="#c8102e"/>
<polygon points="500,210.19 497.91,213.78 502.09,213.78" fill="#c8102e"/>
<polygon points="500,231.8 497.91,235.39 502.09,235.39" fill="#c8102e"/>
<polygon points="497,249.02 494.91,252.61 499.09,252.61" fill="#c8102e"/>
<polygon points="503.4,247.07 501.31,250.66 505.49,250.66" fill="#c8102e"/>
<line x1="460.8" y1="286.5" x2="460.8" y2="290.56" stroke="#111" stroke-width="1.15" stroke-linecap="butt"/>
<line x1="457.7" y1="286.5" x2="463.9" y2="286.5" stroke="#111" stroke-width="1.15" stroke-linecap="butt"/>
<line x1="457.7" y1="290.56" x2="463.9" y2="290.56" stroke="#111" stroke-width="1.15" stroke-linecap="butt"/>
<line x1="480.4" y1="219.39" x2="480.4" y2="239.05" stroke="#111" stroke-width="1.15" stroke-linecap="butt"/>
<line x1="477.3" y1="219.39" x2="483.5" y2="219.39" stroke="#111" stroke-width="1.15" stroke-linecap="butt"/>
<line x1="477.3" y1="239.05" x2="483.5" y2="239.05" stroke="#111" stroke-width="1.15" stroke-linecap="butt"/>
<line x1="500" y1="226.86" x2="500" y2="245.39" stroke="#111" stroke-width="1.15" stroke-linecap="butt"/>
<line x1="496.9" y1="226.86" x2="503.1" y2="226.86" stroke="#111" stroke-width="1.15" stroke-linecap="butt"/>
<line x1="496.9" y1="245.39" x2="503.1" y2="245.39" stroke="#111" stroke-width="1.15" stroke-linecap="butt"/>
<line x1="462.8" y1="203.3" x2="479.4" y2="203.3" stroke="#262626" stroke-width="1.25" stroke-linecap="butt"/>
<polygon points="468.95,196.15 469.52,197.52 470.99,197.64 469.87,198.6 470.21,200.04 468.95,199.27 467.69,200.04 468.03,198.6 466.91,197.64 468.38,197.52" fill="#111"/>
<polygon points="473.25,196.15 473.82,197.52 475.29,197.64 474.17,198.6 474.51,200.04 473.25,199.27 471.99,200.04 472.33,198.6 471.21,197.64 472.68,197.52" fill="#111"/>
<line x1="484.5" y1="207" x2="501.4" y2="207" stroke="#262626" stroke-width="1.25" stroke-linecap="butt"/>
<text transform="translate(492.95,202) scale(0.92,1)" y="3.31" font-size="9.2" text-anchor="middle" fill="#231f20">ns</text>
<text transform="translate(480.45,191.6)" y="0" font-size="9.8" text-anchor="middle" textLength="49.8" lengthAdjust="spacingAndGlyphs" fill="#231f20" stroke="#231f20" stroke-width="0.12">Basal ECAR</text>
<text transform="translate(424,248.75) rotate(-90)" y="3.24" font-size="9" text-anchor="middle" textLength="58" lengthAdjust="spacingAndGlyphs" fill="#231f20" stroke="#231f20" stroke-width="0.08">ECAR (mpH/min)</text>
<rect x="48.75" y="426" width="13.5" height="46.8" fill="#7198c0"/>
<rect x="68.25" y="403.19" width="13.5" height="69.62" fill="#5fc46c"/>
<rect x="87.75" y="432.82" width="13.5" height="39.98" fill="#abdfab"/>
<line x1="41.6" y1="372" x2="41.6" y2="473.35" stroke="#000" stroke-width="1.2" stroke-linecap="butt"/>
<line x1="41" y1="472.8" x2="105.4" y2="472.8" stroke="#000" stroke-width="1.2" stroke-linecap="butt"/>
<line x1="38.3" y1="472.8" x2="41.6" y2="472.8" stroke="#000" stroke-width="1.1" stroke-linecap="butt"/>
<text transform="translate(35.6,472.8)" y="3.4" font-size="8.3" text-anchor="end" fill="#231f20">0</text>
<line x1="38.3" y1="453.3" x2="41.6" y2="453.3" stroke="#000" stroke-width="1.1" stroke-linecap="butt"/>
<text transform="translate(35.6,453.3)" y="3.4" font-size="8.3" text-anchor="end" fill="#231f20">10</text>
<line x1="38.3" y1="433.8" x2="41.6" y2="433.8" stroke="#000" stroke-width="1.1" stroke-linecap="butt"/>
<text transform="translate(35.6,433.8)" y="3.4" font-size="8.3" text-anchor="end" fill="#231f20">20</text>
<line x1="38.3" y1="414.3" x2="41.6" y2="414.3" stroke="#000" stroke-width="1.1" stroke-linecap="butt"/>
<text transform="translate(35.6,414.3)" y="3.4" font-size="8.3" text-anchor="end" fill="#231f20">30</text>
<line x1="38.3" y1="394.8" x2="41.6" y2="394.8" stroke="#000" stroke-width="1.1" stroke-linecap="butt"/>
<text transform="translate(35.6,394.8)" y="3.4" font-size="8.3" text-anchor="end" fill="#231f20">40</text>
<line x1="38.3" y1="375.3" x2="41.6" y2="375.3" stroke="#000" stroke-width="1.1" stroke-linecap="butt"/>
<text transform="translate(35.6,375.3)" y="3.4" font-size="8.3" text-anchor="end" fill="#231f20">50</text>
<line x1="55.5" y1="472.8" x2="55.5" y2="476.1" stroke="#000" stroke-width="1.1" stroke-linecap="butt"/>
<text transform="translate(52.9,481.7) rotate(-45) scale(0.76,1)" y="3.53" font-size="9.8" text-anchor="end" fill="#231f20">UN</text>
<line x1="75" y1="472.8" x2="75" y2="476.1" stroke="#000" stroke-width="1.1" stroke-linecap="butt"/>
<text transform="translate(72.4,481.7) rotate(-45) scale(0.76,1)" y="3.53" font-size="9.8" text-anchor="end" fill="#231f20">BCR</text>
<line x1="94.5" y1="472.8" x2="94.5" y2="476.1" stroke="#000" stroke-width="1.1" stroke-linecap="butt"/>
<text transform="translate(91.9,481.7) rotate(-45) scale(0.76,1)" y="3.53" font-size="9.8" text-anchor="end" fill="#231f20">BCR+V9302</text>
<circle cx="55.5" cy="412.74" r="1.65" fill="#114e8f"/>
<circle cx="55.5" cy="430.68" r="1.65" fill="#114e8f"/>
<circle cx="55.5" cy="436.53" r="1.65" fill="#114e8f"/>
<rect x="73.35" y="391.98" width="3.3" height="3.3" fill="#2db33f"/>
<rect x="71.35" y="405.63" width="3.3" height="3.3" fill="#2db33f"/>
<rect x="75.35" y="405.63" width="3.3" height="3.3" fill="#2db33f"/>
<polygon points="94.5,421.02 92.41,424.61 96.59,424.61" fill="#4cc25a"/>
<polygon points="94.5,427.85 92.41,431.44 96.59,431.44" fill="#4cc25a"/>
<polygon points="94.5,446.57 92.41,450.16 96.59,450.16" fill="#4cc25a"/>
<line x1="55.5" y1="419.18" x2="55.5" y2="432.44" stroke="#111" stroke-width="1.15" stroke-linecap="butt"/>
<line x1="52.4" y1="419.18" x2="58.6" y2="419.18" stroke="#111" stroke-width="1.15" stroke-linecap="butt"/>
<line x1="52.4" y1="432.44" x2="58.6" y2="432.44" stroke="#111" stroke-width="1.15" stroke-linecap="butt"/>
<line x1="75" y1="398.31" x2="75" y2="407.28" stroke="#111" stroke-width="1.15" stroke-linecap="butt"/>
<line x1="71.9" y1="398.31" x2="78.1" y2="398.31" stroke="#111" stroke-width="1.15" stroke-linecap="butt"/>
<line x1="71.9" y1="407.28" x2="78.1" y2="407.28" stroke="#111" stroke-width="1.15" stroke-linecap="butt"/>
<line x1="94.5" y1="425.61" x2="94.5" y2="440.82" stroke="#111" stroke-width="1.15" stroke-linecap="butt"/>
<line x1="91.4" y1="425.61" x2="97.6" y2="425.61" stroke="#111" stroke-width="1.15" stroke-linecap="butt"/>
<line x1="91.4" y1="440.82" x2="97.6" y2="440.82" stroke="#111" stroke-width="1.15" stroke-linecap="butt"/>
<line x1="53.6" y1="381.5" x2="74.8" y2="381.5" stroke="#262626" stroke-width="1.25" stroke-linecap="butt"/>
<polygon points="62.05,374.35 62.62,375.72 64.09,375.84 62.97,376.8 63.31,378.24 62.05,377.47 60.79,378.24 61.13,376.8 60.01,375.84 61.48,375.72" fill="#111"/>
<polygon points="66.35,374.35 66.92,375.72 68.39,375.84 67.27,376.8 67.61,378.24 66.35,377.47 65.09,378.24 65.43,376.8 64.31,375.84 65.78,375.72" fill="#111"/>
<line x1="76.6" y1="389.1" x2="95" y2="389.1" stroke="#262626" stroke-width="1.25" stroke-linecap="butt"/>
<polygon points="85.8,381.95 86.37,383.32 87.84,383.44 86.72,384.4 87.06,385.84 85.8,385.07 84.54,385.84 84.88,384.4 83.76,383.44 85.23,383.32" fill="#111"/>
<text transform="translate(73.85,366.6)" y="0" font-size="9.8" text-anchor="middle" textLength="44.8" lengthAdjust="spacingAndGlyphs" fill="#231f20" stroke="#231f20" stroke-width="0.12">Basal OCR</text>
<text transform="translate(19.1,422.4) rotate(-90)" y="3.24" font-size="9" text-anchor="middle" textLength="55.5" lengthAdjust="spacingAndGlyphs" fill="#231f20" stroke="#231f20" stroke-width="0.08">OCR (pmol/min)</text>
<rect x="152.05" y="435.62" width="13.5" height="36.48" fill="#7198c0"/>
<rect x="171.65" y="407.02" width="13.5" height="65.08" fill="#5fc46c"/>
<rect x="191.25" y="434.81" width="13.5" height="37.29" fill="#abdfab"/>
<line x1="145.8" y1="372" x2="145.8" y2="472.65" stroke="#000" stroke-width="1.2" stroke-linecap="butt"/>
<line x1="145.2" y1="472.1" x2="209.1" y2="472.1" stroke="#000" stroke-width="1.2" stroke-linecap="butt"/>
<line x1="142.5" y1="472.1" x2="145.8" y2="472.1" stroke="#000" stroke-width="1.1" stroke-linecap="butt"/>
<text transform="translate(139.8,472.1)" y="3.4" font-size="8.3" text-anchor="end" fill="#231f20">0</text>
<line x1="142.5" y1="452.8" x2="145.8" y2="452.8" stroke="#000" stroke-width="1.1" stroke-linecap="butt"/>
<text transform="translate(139.8,452.8)" y="3.4" font-size="8.3" text-anchor="end" fill="#231f20">50</text>
<line x1="142.5" y1="433.5" x2="145.8" y2="433.5" stroke="#000" stroke-width="1.1" stroke-linecap="butt"/>
<text transform="translate(139.8,433.5)" y="3.4" font-size="8.3" text-anchor="end" fill="#231f20">100</text>
<line x1="142.5" y1="414.2" x2="145.8" y2="414.2" stroke="#000" stroke-width="1.1" stroke-linecap="butt"/>
<text transform="translate(139.8,414.2)" y="3.4" font-size="8.3" text-anchor="end" fill="#231f20">150</text>
<line x1="142.5" y1="394.9" x2="145.8" y2="394.9" stroke="#000" stroke-width="1.1" stroke-linecap="butt"/>
<text transform="translate(139.8,394.9)" y="3.4" font-size="8.3" text-anchor="end" fill="#231f20">200</text>
<line x1="142.5" y1="375.6" x2="145.8" y2="375.6" stroke="#000" stroke-width="1.1" stroke-linecap="butt"/>
<text transform="translate(139.8,375.6)" y="3.4" font-size="8.3" text-anchor="end" fill="#231f20">250</text>
<line x1="158.8" y1="472.1" x2="158.8" y2="475.4" stroke="#000" stroke-width="1.1" stroke-linecap="butt"/>
<text transform="translate(156.9,480.3) rotate(-45) scale(0.76,1)" y="3.53" font-size="9.8" text-anchor="end" fill="#231f20">UN</text>
<line x1="178.4" y1="472.1" x2="178.4" y2="475.4" stroke="#000" stroke-width="1.1" stroke-linecap="butt"/>
<text transform="translate(176.5,480.3) rotate(-45) scale(0.76,1)" y="3.53" font-size="9.8" text-anchor="end" fill="#231f20">BCR</text>
<line x1="198" y1="472.1" x2="198" y2="475.4" stroke="#000" stroke-width="1.1" stroke-linecap="butt"/>
<text transform="translate(196.1,480.3) rotate(-45) scale(0.76,1)" y="3.53" font-size="9.8" text-anchor="end" fill="#231f20">BCR+V9302</text>
<circle cx="155.8" cy="428.1" r="1.65" fill="#114e8f"/>
<circle cx="162.3" cy="429.64" r="1.65" fill="#114e8f"/>
<circle cx="158.8" cy="447.01" r="1.65" fill="#114e8f"/>
<rect x="176.75" y="394.41" width="3.3" height="3.3" fill="#2db33f"/>
<rect x="176.75" y="399.43" width="3.3" height="3.3" fill="#2db33f"/>
<rect x="176.75" y="421.81" width="3.3" height="3.3" fill="#2db33f"/>
<polygon points="198,422.18 195.91,425.77 200.09,425.77" fill="#4cc25a"/>
<polygon points="198,426.04 195.91,429.63 200.09,429.63" fill="#4cc25a"/>
<polygon points="198,453.26 195.91,456.85 200.09,456.85" fill="#4cc25a"/>
<line x1="158.8" y1="429.25" x2="158.8" y2="441.61" stroke="#111" stroke-width="1.15" stroke-linecap="butt"/>
<line x1="155.7" y1="429.25" x2="161.9" y2="429.25" stroke="#111" stroke-width="1.15" stroke-linecap="butt"/>
<line x1="155.7" y1="441.61" x2="161.9" y2="441.61" stroke="#111" stroke-width="1.15" stroke-linecap="butt"/>
<line x1="178.4" y1="397.99" x2="178.4" y2="415.74" stroke="#111" stroke-width="1.15" stroke-linecap="butt"/>
<line x1="175.3" y1="397.99" x2="181.5" y2="397.99" stroke="#111" stroke-width="1.15" stroke-linecap="butt"/>
<line x1="175.3" y1="415.74" x2="181.5" y2="415.74" stroke="#111" stroke-width="1.15" stroke-linecap="butt"/>
<line x1="198" y1="425.39" x2="198" y2="445.47" stroke="#111" stroke-width="1.15" stroke-linecap="butt"/>
<line x1="194.9" y1="425.39" x2="201.1" y2="425.39" stroke="#111" stroke-width="1.15" stroke-linecap="butt"/>
<line x1="194.9" y1="445.47" x2="201.1" y2="445.47" stroke="#111" stroke-width="1.15" stroke-linecap="butt"/>
<line x1="157.3" y1="385.8" x2="174.7" y2="385.8" stroke="#262626" stroke-width="1.25" stroke-linecap="butt"/>
<polygon points="161.7,378.65 162.27,380.02 163.74,380.14 162.62,381.1 162.96,382.54 161.7,381.77 160.44,382.54 160.78,381.1 159.66,380.14 161.13,380.02" fill="#111"/>
<polygon points="166,378.65 166.57,380.02 168.04,380.14 166.92,381.1 167.26,382.54 166,381.77 164.74,382.54 165.08,381.1 163.96,380.14 165.43,380.02" fill="#111"/>
<polygon points="170.3,378.65 170.87,380.02 172.34,380.14 171.22,381.1 171.56,382.54 170.3,381.77 169.04,382.54 169.38,381.1 168.26,380.14 169.73,380.02" fill="#111"/>
<line x1="180.3" y1="392.2" x2="198.2" y2="392.2" stroke="#262626" stroke-width="1.25" stroke-linecap="butt"/>
<polygon points="189.25,385.05 189.82,386.42 191.29,386.54 190.17,387.5 190.51,388.94 189.25,388.17 187.99,388.94 188.33,387.5 187.21,386.54 188.68,386.42" fill="#111"/>
<text transform="translate(177.9,366.3)" y="0" font-size="9.8" text-anchor="middle" textLength="59" lengthAdjust="spacingAndGlyphs" fill="#231f20" stroke="#231f20" stroke-width="0.12">Maximal OCR</text>
<text transform="translate(119,422.05) rotate(-90)" y="3.24" font-size="9" text-anchor="middle" textLength="55.5" lengthAdjust="spacingAndGlyphs" fill="#231f20" stroke="#231f20" stroke-width="0.08">OCR (pmol/min)</text>
<rect x="257.95" y="438.33" width="13.5" height="33.67" fill="#7198c0"/>
<rect x="276.95" y="410.09" width="13.5" height="61.91" fill="#5fc46c"/>
<rect x="296.25" y="436.54" width="13.5" height="35.46" fill="#abdfab"/>
<line x1="252" y1="374" x2="252" y2="472.55" stroke="#000" stroke-width="1.2" stroke-linecap="butt"/>
<line x1="251.4" y1="472" x2="315.4" y2="472" stroke="#000" stroke-width="1.2" stroke-linecap="butt"/>
<line x1="248.7" y1="472" x2="252" y2="472" stroke="#000" stroke-width="1.1" stroke-linecap="butt"/>
<text transform="translate(246,472)" y="3.4" font-size="8.3" text-anchor="end" fill="#231f20">0</text>
<line x1="248.7" y1="448.55" x2="252" y2="448.55" stroke="#000" stroke-width="1.1" stroke-linecap="butt"/>
<text transform="translate(246,448.55)" y="3.4" font-size="8.3" text-anchor="end" fill="#231f20">50</text>
<line x1="248.7" y1="425.1" x2="252" y2="425.1" stroke="#000" stroke-width="1.1" stroke-linecap="butt"/>
<text transform="translate(246,425.1)" y="3.4" font-size="8.3" text-anchor="end" fill="#231f20">100</text>
<line x1="248.7" y1="401.65" x2="252" y2="401.65" stroke="#000" stroke-width="1.1" stroke-linecap="butt"/>
<text transform="translate(246,401.65)" y="3.4" font-size="8.3" text-anchor="end" fill="#231f20">150</text>
<line x1="248.7" y1="378.2" x2="252" y2="378.2" stroke="#000" stroke-width="1.1" stroke-linecap="butt"/>
<text transform="translate(246,378.2)" y="3.4" font-size="8.3" text-anchor="end" fill="#231f20">200</text>
<line x1="261.2" y1="472" x2="261.2" y2="475.3" stroke="#000" stroke-width="1.1" stroke-linecap="butt"/>
<text transform="translate(262.1,480.9) rotate(-45) scale(0.76,1)" y="3.53" font-size="9.8" text-anchor="end" fill="#231f20">UN</text>
<line x1="280.2" y1="472" x2="280.2" y2="475.3" stroke="#000" stroke-width="1.1" stroke-linecap="butt"/>
<text transform="translate(281.1,480.9) rotate(-45) scale(0.76,1)" y="3.53" font-size="9.8" text-anchor="end" fill="#231f20">BCR</text>
<line x1="299.5" y1="472" x2="299.5" y2="475.3" stroke="#000" stroke-width="1.1" stroke-linecap="butt"/>
<text transform="translate(300.4,480.9) rotate(-45) scale(0.76,1)" y="3.53" font-size="9.8" text-anchor="end" fill="#231f20">BCR+V9302</text>
<circle cx="262.2" cy="431.2" r="1.65" fill="#114e8f"/>
<circle cx="268.2" cy="433.07" r="1.65" fill="#114e8f"/>
<circle cx="264.7" cy="447.61" r="1.65" fill="#114e8f"/>
<rect x="282.05" y="396.72" width="3.3" height="3.3" fill="#2db33f"/>
<rect x="282.05" y="399.06" width="3.3" height="3.3" fill="#2db33f"/>
<rect x="282.05" y="426.73" width="3.3" height="3.3" fill="#2db33f"/>
<polygon points="303,423.05 300.91,426.64 305.09,426.64" fill="#4cc25a"/>
<polygon points="303,423.99 300.91,427.58 305.09,427.58" fill="#4cc25a"/>
<polygon points="303,454.47 300.91,458.06 305.09,458.06" fill="#4cc25a"/>
<line x1="264.7" y1="432.13" x2="264.7" y2="443.58" stroke="#111" stroke-width="1.15" stroke-linecap="butt"/>
<line x1="261.6" y1="432.13" x2="267.8" y2="432.13" stroke="#111" stroke-width="1.15" stroke-linecap="butt"/>
<line x1="261.6" y1="443.58" x2="267.8" y2="443.58" stroke="#111" stroke-width="1.15" stroke-linecap="butt"/>
<line x1="283.7" y1="399.77" x2="283.7" y2="418.77" stroke="#111" stroke-width="1.15" stroke-linecap="butt"/>
<line x1="280.6" y1="399.77" x2="286.8" y2="399.77" stroke="#111" stroke-width="1.15" stroke-linecap="butt"/>
<line x1="280.6" y1="418.77" x2="286.8" y2="418.77" stroke="#111" stroke-width="1.15" stroke-linecap="butt"/>
<line x1="303" y1="425.1" x2="303" y2="446.67" stroke="#111" stroke-width="1.15" stroke-linecap="butt"/>
<line x1="299.9" y1="425.1" x2="306.1" y2="425.1" stroke="#111" stroke-width="1.15" stroke-linecap="butt"/>
<line x1="299.9" y1="446.67" x2="306.1" y2="446.67" stroke="#111" stroke-width="1.15" stroke-linecap="butt"/>
<line x1="263.5" y1="387.8" x2="281.9" y2="387.8" stroke="#262626" stroke-width="1.25" stroke-linecap="butt"/>
<polygon points="272.7,380.65 273.27,382.02 274.74,382.14 273.62,383.1 273.96,384.54 272.7,383.77 271.44,384.54 271.78,383.1 270.66,382.14 272.13,382.02" fill="#111"/>
<line x1="286.5" y1="394.2" x2="304.4" y2="394.2" stroke="#262626" stroke-width="1.25" stroke-linecap="butt"/>
<polygon points="293.3,387.05 293.87,388.42 295.34,388.54 294.22,389.5 294.56,390.94 293.3,390.17 292.04,390.94 292.38,389.5 291.26,388.54 292.73,388.42" fill="#111"/>
<polygon points="297.6,387.05 298.17,388.42 299.64,388.54 298.52,389.5 298.86,390.94 297.6,390.17 296.34,390.94 296.68,389.5 295.56,388.54 297.03,388.42" fill="#111"/>
<text transform="translate(284.15,355.5)" y="0" font-size="9.8" text-anchor="middle" textLength="73.6" lengthAdjust="spacingAndGlyphs" fill="#231f20" stroke="#231f20" stroke-width="0.12">Spare respiratory</text>
<text transform="translate(284.1,366.6)" y="0" font-size="9.8" text-anchor="middle" textLength="35.2" lengthAdjust="spacingAndGlyphs" fill="#231f20" stroke="#231f20" stroke-width="0.12">capacity</text>
<text transform="translate(224,423) rotate(-90)" y="3.24" font-size="9" text-anchor="middle" textLength="55.5" lengthAdjust="spacingAndGlyphs" fill="#231f20" stroke="#231f20" stroke-width="0.08">OCR (pmol/min)</text>
<rect x="358.35" y="430.1" width="13.5" height="42.7" fill="#7198c0"/>
<rect x="377.95" y="403.97" width="13.5" height="68.83" fill="#5fc46c"/>
<rect x="397.55" y="439.06" width="13.5" height="33.74" fill="#abdfab"/>
<line x1="352.1" y1="372" x2="352.1" y2="473.35" stroke="#000" stroke-width="1.2" stroke-linecap="butt"/>
<line x1="351.5" y1="472.8" x2="415.4" y2="472.8" stroke="#000" stroke-width="1.2" stroke-linecap="butt"/>
<line x1="348.8" y1="472.8" x2="352.1" y2="472.8" stroke="#000" stroke-width="1.1" stroke-linecap="butt"/>
<text transform="translate(346.1,472.8)" y="3.4" font-size="8.3" text-anchor="end" fill="#231f20">0</text>
<line x1="348.8" y1="453.3" x2="352.1" y2="453.3" stroke="#000" stroke-width="1.1" stroke-linecap="butt"/>
<text transform="translate(346.1,453.3)" y="3.4" font-size="8.3" text-anchor="end" fill="#231f20">10</text>
<line x1="348.8" y1="433.8" x2="352.1" y2="433.8" stroke="#000" stroke-width="1.1" stroke-linecap="butt"/>
<text transform="translate(346.1,433.8)" y="3.4" font-size="8.3" text-anchor="end" fill="#231f20">20</text>
<line x1="348.8" y1="414.3" x2="352.1" y2="414.3" stroke="#000" stroke-width="1.1" stroke-linecap="butt"/>
<text transform="translate(346.1,414.3)" y="3.4" font-size="8.3" text-anchor="end" fill="#231f20">30</text>
<line x1="348.8" y1="394.8" x2="352.1" y2="394.8" stroke="#000" stroke-width="1.1" stroke-linecap="butt"/>
<text transform="translate(346.1,394.8)" y="3.4" font-size="8.3" text-anchor="end" fill="#231f20">40</text>
<line x1="348.8" y1="375.3" x2="352.1" y2="375.3" stroke="#000" stroke-width="1.1" stroke-linecap="butt"/>
<text transform="translate(346.1,375.3)" y="3.4" font-size="8.3" text-anchor="end" fill="#231f20">50</text>
<line x1="365.1" y1="472.8" x2="365.1" y2="476.1" stroke="#000" stroke-width="1.1" stroke-linecap="butt"/>
<text transform="translate(363.9,481.4) rotate(-45) scale(0.76,1)" y="3.53" font-size="9.8" text-anchor="end" fill="#231f20">UN</text>
<line x1="384.7" y1="472.8" x2="384.7" y2="476.1" stroke="#000" stroke-width="1.1" stroke-linecap="butt"/>
<text transform="translate(383.5,481.4) rotate(-45) scale(0.76,1)" y="3.53" font-size="9.8" text-anchor="end" fill="#231f20">BCR</text>
<line x1="404.3" y1="472.8" x2="404.3" y2="476.1" stroke="#000" stroke-width="1.1" stroke-linecap="butt"/>
<text transform="translate(403.1,481.4) rotate(-45) scale(0.76,1)" y="3.53" font-size="9.8" text-anchor="end" fill="#231f20">BCR+V9302</text>
<circle cx="365.1" cy="415.28" r="1.65" fill="#114e8f"/>
<circle cx="365.1" cy="433.8" r="1.65" fill="#114e8f"/>
<circle cx="365.1" cy="443.55" r="1.65" fill="#114e8f"/>
<rect x="383.05" y="393.35" width="3.3" height="3.3" fill="#2db33f"/>
<rect x="381.05" y="404.85" width="3.3" height="3.3" fill="#2db33f"/>
<rect x="385.05" y="406.8" width="3.3" height="3.3" fill="#2db33f"/>
<polygon points="404.3,425.9 402.21,429.49 406.39,429.49" fill="#4cc25a"/>
<polygon points="404.3,435.65 402.21,439.24 406.39,439.24" fill="#4cc25a"/>
<polygon points="404.3,450.27 402.21,453.86 406.39,453.86" fill="#4cc25a"/>
<line x1="365.1" y1="421.32" x2="365.1" y2="437.7" stroke="#111" stroke-width="1.15" stroke-linecap="butt"/>
<line x1="362" y1="421.32" x2="368.2" y2="421.32" stroke="#111" stroke-width="1.15" stroke-linecap="butt"/>
<line x1="362" y1="437.7" x2="368.2" y2="437.7" stroke="#111" stroke-width="1.15" stroke-linecap="butt"/>
<line x1="384.7" y1="399.29" x2="384.7" y2="409.04" stroke="#111" stroke-width="1.15" stroke-linecap="butt"/>
<line x1="381.6" y1="399.29" x2="387.8" y2="399.29" stroke="#111" stroke-width="1.15" stroke-linecap="butt"/>
<line x1="381.6" y1="409.04" x2="387.8" y2="409.04" stroke="#111" stroke-width="1.15" stroke-linecap="butt"/>
<line x1="404.3" y1="432.05" x2="404.3" y2="446.48" stroke="#111" stroke-width="1.15" stroke-linecap="butt"/>
<line x1="401.2" y1="432.05" x2="407.4" y2="432.05" stroke="#111" stroke-width="1.15" stroke-linecap="butt"/>
<line x1="401.2" y1="446.48" x2="407.4" y2="446.48" stroke="#111" stroke-width="1.15" stroke-linecap="butt"/>
<line x1="362.8" y1="386" x2="381.5" y2="386" stroke="#262626" stroke-width="1.25" stroke-linecap="butt"/>
<polygon points="372.15,378.85 372.72,380.22 374.19,380.34 373.07,381.3 373.41,382.74 372.15,381.97 370.89,382.74 371.23,381.3 370.11,380.34 371.58,380.22" fill="#111"/>
<line x1="390.4" y1="391.2" x2="408.8" y2="391.2" stroke="#262626" stroke-width="1.25" stroke-linecap="butt"/>
<polygon points="399.6,384.05 400.17,385.42 401.64,385.54 400.52,386.5 400.86,387.94 399.6,387.17 398.34,387.94 398.68,386.5 397.56,385.54 399.03,385.42" fill="#111"/>
<text transform="translate(384.65,366.6)" y="0" font-size="9.8" text-anchor="middle" textLength="67.2" lengthAdjust="spacingAndGlyphs" fill="#231f20" stroke="#231f20" stroke-width="0.12">ATP production</text>
<text transform="translate(327.9,422.4) rotate(-90)" y="3.24" font-size="9" text-anchor="middle" textLength="55.5" lengthAdjust="spacingAndGlyphs" fill="#231f20" stroke="#231f20" stroke-width="0.08">OCR (pmol/min)</text>
<rect x="453.65" y="432.45" width="13.5" height="39.65" fill="#7198c0"/>
<rect x="473.25" y="406.83" width="13.5" height="65.27" fill="#5fc46c"/>
<rect x="492.85" y="407.55" width="13.5" height="64.55" fill="#abdfab"/>
<line x1="447.4" y1="372" x2="447.4" y2="472.65" stroke="#000" stroke-width="1.2" stroke-linecap="butt"/>
<line x1="446.8" y1="472.1" x2="512.6" y2="472.1" stroke="#000" stroke-width="1.2" stroke-linecap="butt"/>
<line x1="444.1" y1="472.1" x2="447.4" y2="472.1" stroke="#000" stroke-width="1.1" stroke-linecap="butt"/>
<text transform="translate(441.4,472.1)" y="3.4" font-size="8.3" text-anchor="end" fill="#231f20">0</text>
<line x1="444.1" y1="447.93" x2="447.4" y2="447.93" stroke="#000" stroke-width="1.1" stroke-linecap="butt"/>
<text transform="translate(441.4,447.93)" y="3.4" font-size="8.3" text-anchor="end" fill="#231f20">2</text>
<line x1="444.1" y1="423.75" x2="447.4" y2="423.75" stroke="#000" stroke-width="1.1" stroke-linecap="butt"/>
<text transform="translate(441.4,423.75)" y="3.4" font-size="8.3" text-anchor="end" fill="#231f20">4</text>
<line x1="444.1" y1="399.57" x2="447.4" y2="399.57" stroke="#000" stroke-width="1.1" stroke-linecap="butt"/>
<text transform="translate(441.4,399.57)" y="3.4" font-size="8.3" text-anchor="end" fill="#231f20">6</text>
<line x1="444.1" y1="375.4" x2="447.4" y2="375.4" stroke="#000" stroke-width="1.1" stroke-linecap="butt"/>
<text transform="translate(441.4,375.4)" y="3.4" font-size="8.3" text-anchor="end" fill="#231f20">8</text>
<line x1="460.4" y1="472.1" x2="460.4" y2="475.4" stroke="#000" stroke-width="1.1" stroke-linecap="butt"/>
<text transform="translate(461.4,480.3) rotate(-45) scale(0.76,1)" y="3.53" font-size="9.8" text-anchor="end" fill="#231f20">UN</text>
<line x1="480" y1="472.1" x2="480" y2="475.4" stroke="#000" stroke-width="1.1" stroke-linecap="butt"/>
<text transform="translate(481,480.3) rotate(-45) scale(0.76,1)" y="3.53" font-size="9.8" text-anchor="end" fill="#231f20">BCR</text>
<line x1="499.6" y1="472.1" x2="499.6" y2="475.4" stroke="#000" stroke-width="1.1" stroke-linecap="butt"/>
<text transform="translate(500.6,480.3) rotate(-45) scale(0.76,1)" y="3.53" font-size="9.8" text-anchor="end" fill="#231f20">BCR+V9302</text>
<circle cx="460.4" cy="421.33" r="1.65" fill="#114e8f"/>
<circle cx="460.4" cy="434.63" r="1.65" fill="#114e8f"/>
<circle cx="460.4" cy="442.49" r="1.65" fill="#114e8f"/>
<rect x="478.35" y="388.01" width="3.3" height="3.3" fill="#2db33f"/>
<rect x="478.35" y="409.41" width="3.3" height="3.3" fill="#2db33f"/>
<rect x="478.35" y="416.18" width="3.3" height="3.3" fill="#2db33f"/>
<polygon points="499.6,393.53 497.51,397.13 501.69,397.13" fill="#4cc25a"/>
<polygon points="499.6,402.72 497.51,406.31 501.69,406.31" fill="#4cc25a"/>
<polygon points="499.6,420.49 497.51,424.08 501.69,424.08" fill="#4cc25a"/>
<line x1="460.4" y1="426.53" x2="460.4" y2="438.74" stroke="#111" stroke-width="1.15" stroke-linecap="butt"/>
<line x1="457.3" y1="426.53" x2="463.5" y2="426.53" stroke="#111" stroke-width="1.15" stroke-linecap="butt"/>
<line x1="457.3" y1="438.74" x2="463.5" y2="438.74" stroke="#111" stroke-width="1.15" stroke-linecap="butt"/>
<line x1="480" y1="397.88" x2="480" y2="415.17" stroke="#111" stroke-width="1.15" stroke-linecap="butt"/>
<line x1="476.9" y1="397.88" x2="483.1" y2="397.88" stroke="#111" stroke-width="1.15" stroke-linecap="butt"/>
<line x1="476.9" y1="415.17" x2="483.1" y2="415.17" stroke="#111" stroke-width="1.15" stroke-linecap="butt"/>
<line x1="499.6" y1="398.73" x2="499.6" y2="415.17" stroke="#111" stroke-width="1.15" stroke-linecap="butt"/>
<line x1="496.5" y1="398.73" x2="502.7" y2="398.73" stroke="#111" stroke-width="1.15" stroke-linecap="butt"/>
<line x1="496.5" y1="415.17" x2="502.7" y2="415.17" stroke="#111" stroke-width="1.15" stroke-linecap="butt"/>
<line x1="460.7" y1="383.1" x2="477.3" y2="383.1" stroke="#262626" stroke-width="1.25" stroke-linecap="butt"/>
<text transform="translate(469,378.1) scale(0.92,1)" y="3.31" font-size="9.2" text-anchor="middle" fill="#231f20">ns</text>
<line x1="483.9" y1="384.7" x2="495.9" y2="384.7" stroke="#262626" stroke-width="1.25" stroke-linecap="butt"/>
<text transform="translate(489.9,379.7) scale(0.92,1)" y="3.31" font-size="9.2" text-anchor="middle" fill="#231f20">ns</text>
<text transform="translate(480.45,366.6)" y="0" font-size="9.8" text-anchor="middle" textLength="49.8" lengthAdjust="spacingAndGlyphs" fill="#231f20" stroke="#231f20" stroke-width="0.12">Basal ECAR</text>
<text transform="translate(428.3,422.05) rotate(-90)" y="3.24" font-size="9" text-anchor="middle" textLength="58" lengthAdjust="spacingAndGlyphs" fill="#231f20" stroke="#231f20" stroke-width="0.08">ECAR (mpH/min)</text>
<line x1="45.4" y1="533.8" x2="45.4" y2="642.85" stroke="#000" stroke-width="1.2" stroke-linecap="butt"/>
<line x1="44.8" y1="642.3" x2="147.5" y2="642.3" stroke="#000" stroke-width="1.2" stroke-linecap="butt"/>
<line x1="41.8" y1="642.3" x2="45.4" y2="642.3" stroke="#000" stroke-width="1.1" stroke-linecap="butt"/>
<text transform="translate(39.4,642.3)" y="3.4" font-size="8.3" text-anchor="end" fill="#231f20">0</text>
<line x1="41.8" y1="621.55" x2="45.4" y2="621.55" stroke="#000" stroke-width="1.1" stroke-linecap="butt"/>
<text transform="translate(39.4,621.55)" y="3.4" font-size="8.3" text-anchor="end" fill="#231f20">20</text>
<line x1="41.8" y1="600.8" x2="45.4" y2="600.8" stroke="#000" stroke-width="1.1" stroke-linecap="butt"/>
<text transform="translate(39.4,600.8)" y="3.4" font-size="8.3" text-anchor="end" fill="#231f20">40</text>
<line x1="41.8" y1="580.05" x2="45.4" y2="580.05" stroke="#000" stroke-width="1.1" stroke-linecap="butt"/>
<text transform="translate(39.4,580.05)" y="3.4" font-size="8.3" text-anchor="end" fill="#231f20">60</text>
<line x1="41.8" y1="559.3" x2="45.4" y2="559.3" stroke="#000" stroke-width="1.1" stroke-linecap="butt"/>
<text transform="translate(39.4,559.3)" y="3.4" font-size="8.3" text-anchor="end" fill="#231f20">80</text>
<line x1="41.8" y1="538.55" x2="45.4" y2="538.55" stroke="#000" stroke-width="1.1" stroke-linecap="butt"/>
<text transform="translate(39.4,538.55)" y="3.4" font-size="8.3" text-anchor="end" fill="#231f20">100</text>
<line x1="55.8" y1="642.3" x2="55.8" y2="645.3" stroke="#000" stroke-width="1.1" stroke-linecap="butt"/>
<text transform="translate(55.8,648.9) rotate(-90) scale(0.88,1)" y="3.24" font-size="9" text-anchor="end" fill="#231f20">0</text>
<line x1="72.6" y1="642.3" x2="72.6" y2="645.3" stroke="#000" stroke-width="1.1" stroke-linecap="butt"/>
<text transform="translate(72.6,648.9) rotate(-90) scale(0.88,1)" y="3.24" font-size="9" text-anchor="end" fill="#231f20">1</text>
<line x1="88.8" y1="642.3" x2="88.8" y2="645.3" stroke="#000" stroke-width="1.1" stroke-linecap="butt"/>
<text transform="translate(88.8,648.9) rotate(-90) scale(0.88,1)" y="3.24" font-size="9" text-anchor="end" fill="#231f20">10</text>
<line x1="105.4" y1="642.3" x2="105.4" y2="645.3" stroke="#000" stroke-width="1.1" stroke-linecap="butt"/>
<text transform="translate(105.4,648.9) rotate(-90) scale(0.88,1)" y="3.24" font-size="9" text-anchor="end" fill="#231f20">100</text>
<line x1="121.5" y1="642.3" x2="121.5" y2="645.3" stroke="#000" stroke-width="1.1" stroke-linecap="butt"/>
<text transform="translate(121.5,648.9) rotate(-90) scale(0.88,1)" y="3.24" font-size="9" text-anchor="end" fill="#231f20">1000</text>
<line x1="138.2" y1="642.3" x2="138.2" y2="645.3" stroke="#000" stroke-width="1.1" stroke-linecap="butt"/>
<text transform="translate(138.2,648.9) rotate(-90) scale(0.88,1)" y="3.24" font-size="9" text-anchor="end" fill="#231f20">10000</text>
<text transform="translate(96,533.7)" y="0" font-size="9.8" text-anchor="middle" textLength="34" lengthAdjust="spacingAndGlyphs" fill="#231f20" stroke="#231f20" stroke-width="0.12">Viability</text>
<text transform="translate(17.4,589) rotate(-90)" y="3.24" font-size="9" text-anchor="middle" textLength="35.5" lengthAdjust="spacingAndGlyphs" fill="#231f20">Viability %</text>
<text transform="translate(96.35,678.4)" y="0" font-size="9.6" text-anchor="middle" textLength="55" lengthAdjust="spacingAndGlyphs" fill="#231f20">Venetoclax (nM)</text>
<line x1="55.8" y1="549.55" x2="55.8" y2="567.81" stroke="#222" stroke-width="1.1" stroke-linecap="butt"/>
<line x1="53.5" y1="549.55" x2="58.1" y2="549.55" stroke="#222" stroke-width="1.1" stroke-linecap="butt"/>
<line x1="53.5" y1="567.81" x2="58.1" y2="567.81" stroke="#222" stroke-width="1.1" stroke-linecap="butt"/>
<line x1="72.6" y1="553.07" x2="72.6" y2="574.24" stroke="#222" stroke-width="1.1" stroke-linecap="butt"/>
<line x1="70.3" y1="553.07" x2="74.9" y2="553.07" stroke="#222" stroke-width="1.1" stroke-linecap="butt"/>
<line x1="70.3" y1="574.24" x2="74.9" y2="574.24" stroke="#222" stroke-width="1.1" stroke-linecap="butt"/>
<line x1="88.8" y1="556.19" x2="88.8" y2="579.53" stroke="#222" stroke-width="1.1" stroke-linecap="butt"/>
<line x1="86.5" y1="556.19" x2="91.1" y2="556.19" stroke="#222" stroke-width="1.1" stroke-linecap="butt"/>
<line x1="86.5" y1="579.53" x2="91.1" y2="579.53" stroke="#222" stroke-width="1.1" stroke-linecap="butt"/>
<line x1="105.4" y1="579.53" x2="105.4" y2="592.19" stroke="#222" stroke-width="1.1" stroke-linecap="butt"/>
<line x1="103.1" y1="579.53" x2="107.7" y2="579.53" stroke="#222" stroke-width="1.1" stroke-linecap="butt"/>
<line x1="103.1" y1="592.19" x2="107.7" y2="592.19" stroke="#222" stroke-width="1.1" stroke-linecap="butt"/>
<line x1="121.5" y1="600.8" x2="121.5" y2="608.17" stroke="#222" stroke-width="1.1" stroke-linecap="butt"/>
<line x1="119.2" y1="600.8" x2="123.8" y2="600.8" stroke="#222" stroke-width="1.1" stroke-linecap="butt"/>
<line x1="119.2" y1="608.17" x2="123.8" y2="608.17" stroke="#222" stroke-width="1.1" stroke-linecap="butt"/>
<line x1="138.2" y1="621.03" x2="138.2" y2="624.97" stroke="#222" stroke-width="1.1" stroke-linecap="butt"/>
<line x1="135.9" y1="621.03" x2="140.5" y2="621.03" stroke="#222" stroke-width="1.1" stroke-linecap="butt"/>
<line x1="135.9" y1="624.97" x2="140.5" y2="624.97" stroke="#222" stroke-width="1.1" stroke-linecap="butt"/>
<polyline points="55.8,584.72 72.6,627.77 88.8,640.74 105.4,641.78 121.5,641.78 138.2,641.78" fill="none" stroke="#4f2683" stroke-width="1.6" stroke-linejoin="round"/>
<polygon points="55.8,582.44 53.48,586.43 58.12,586.43" fill="#4f2683"/>
<polygon points="72.6,625.5 70.28,629.49 74.92,629.49" fill="#4f2683"/>
<polygon points="88.8,638.46 86.48,642.45 91.12,642.45" fill="#4f2683"/>
<polygon points="105.4,639.5 103.08,643.49 107.72,643.49" fill="#4f2683"/>
<polygon points="121.5,639.5 119.18,643.49 123.82,643.49" fill="#4f2683"/>
<polygon points="138.2,639.5 135.88,643.49 140.52,643.49" fill="#4f2683"/>
<polyline points="55.8,560.34 72.6,564.49 88.8,571.75 105.4,586.27 121.5,604.95 138.2,623.11" fill="none" stroke="#c8102e" stroke-width="1.6" stroke-linejoin="round" stroke-dasharray="3.2,2.2"/>
<polygon points="55.8,558.06 53.48,562.05 58.12,562.05" fill="#c8102e"/>
<polygon points="72.6,562.21 70.28,566.2 74.92,566.2" fill="#c8102e"/>
<polygon points="88.8,569.47 86.48,573.46 91.12,573.46" fill="#c8102e"/>
<polygon points="105.4,584 103.08,587.99 107.72,587.99" fill="#c8102e"/>
<polygon points="121.5,602.67 119.18,606.66 123.82,606.66" fill="#c8102e"/>
<polygon points="138.2,620.83 135.88,624.82 140.52,624.82" fill="#c8102e"/>
<polyline points="55.8,555.67 72.6,556.19 88.8,559.82 105.4,562.93 121.5,573.82 138.2,589.91" fill="none" stroke="#c8102e" stroke-width="1.6" stroke-linejoin="round"/>
<circle cx="55.8" cy="555.67" r="2.1" fill="#c8102e"/>
<circle cx="72.6" cy="556.19" r="2.1" fill="#c8102e"/>
<circle cx="88.8" cy="559.82" r="2.1" fill="#c8102e"/>
<circle cx="105.4" cy="562.93" r="2.1" fill="#c8102e"/>
<circle cx="121.5" cy="573.82" r="2.1" fill="#c8102e"/>
<circle cx="138.2" cy="589.91" r="2.1" fill="#c8102e"/>
<line x1="140.5" y1="542.8" x2="154.3" y2="542.8" stroke="#4f2683" stroke-width="1.6" stroke-linecap="butt"/>
<polygon points="147.4,540.52 145.08,544.51 149.72,544.51" fill="#4f2683"/>
<text transform="translate(158.7,542.8) scale(0.86,1)" y="3.1" font-size="8.6" text-anchor="start" fill="#231f20">3T3</text>
<line x1="140.5" y1="552.05" x2="154.3" y2="552.05" stroke="#c8102e" stroke-width="1.6" stroke-linecap="butt"/>
<circle cx="147.4" cy="552.05" r="2.1" fill="#c8102e"/>
<text transform="translate(158.7,552.05) scale(0.86,1)" y="3.1" font-size="8.6" text-anchor="start" fill="#231f20">CD40</text>
<line x1="140.5" y1="561.3" x2="154.3" y2="561.3" stroke="#c8102e" stroke-width="1.6" stroke-dasharray="3.2,2.2" stroke-linecap="butt"/>
<polygon points="147.4,559.02 145.08,563.01 149.72,563.01" fill="#c8102e"/>
<text transform="translate(158.7,561.3) scale(0.86,1)" y="3.1" font-size="8.6" text-anchor="start" fill="#231f20">CD40+V9302</text>
<line x1="255.2" y1="533.8" x2="255.2" y2="642.85" stroke="#000" stroke-width="1.2" stroke-linecap="butt"/>
<line x1="254.6" y1="642.3" x2="355" y2="642.3" stroke="#000" stroke-width="1.2" stroke-linecap="butt"/>
<line x1="251.6" y1="642.3" x2="255.2" y2="642.3" stroke="#000" stroke-width="1.1" stroke-linecap="butt"/>
<text transform="translate(249.2,642.3)" y="3.4" font-size="8.3" text-anchor="end" fill="#231f20">0</text>
<line x1="251.6" y1="621.55" x2="255.2" y2="621.55" stroke="#000" stroke-width="1.1" stroke-linecap="butt"/>
<text transform="translate(249.2,621.55)" y="3.4" font-size="8.3" text-anchor="end" fill="#231f20">20</text>
<line x1="251.6" y1="600.8" x2="255.2" y2="600.8" stroke="#000" stroke-width="1.1" stroke-linecap="butt"/>
<text transform="translate(249.2,600.8)" y="3.4" font-size="8.3" text-anchor="end" fill="#231f20">40</text>
<line x1="251.6" y1="580.05" x2="255.2" y2="580.05" stroke="#000" stroke-width="1.1" stroke-linecap="butt"/>
<text transform="translate(249.2,580.05)" y="3.4" font-size="8.3" text-anchor="end" fill="#231f20">60</text>
<line x1="251.6" y1="559.3" x2="255.2" y2="559.3" stroke="#000" stroke-width="1.1" stroke-linecap="butt"/>
<text transform="translate(249.2,559.3)" y="3.4" font-size="8.3" text-anchor="end" fill="#231f20">80</text>
<line x1="251.6" y1="538.55" x2="255.2" y2="538.55" stroke="#000" stroke-width="1.1" stroke-linecap="butt"/>
<text transform="translate(249.2,538.55)" y="3.4" font-size="8.3" text-anchor="end" fill="#231f20">100</text>
<line x1="266.2" y1="642.3" x2="266.2" y2="645.3" stroke="#000" stroke-width="1.1" stroke-linecap="butt"/>
<text transform="translate(266.2,648.9) rotate(-90) scale(0.88,1)" y="3.24" font-size="9" text-anchor="end" fill="#231f20">0</text>
<line x1="282.4" y1="642.3" x2="282.4" y2="645.3" stroke="#000" stroke-width="1.1" stroke-linecap="butt"/>
<text transform="translate(282.4,648.9) rotate(-90) scale(0.88,1)" y="3.24" font-size="9" text-anchor="end" fill="#231f20">1</text>
<line x1="299.2" y1="642.3" x2="299.2" y2="645.3" stroke="#000" stroke-width="1.1" stroke-linecap="butt"/>
<text transform="translate(299.2,648.9) rotate(-90) scale(0.88,1)" y="3.24" font-size="9" text-anchor="end" fill="#231f20">10</text>
<line x1="315.6" y1="642.3" x2="315.6" y2="645.3" stroke="#000" stroke-width="1.1" stroke-linecap="butt"/>
<text transform="translate(315.6,648.9) rotate(-90) scale(0.88,1)" y="3.24" font-size="9" text-anchor="end" fill="#231f20">100</text>
<line x1="331.4" y1="642.3" x2="331.4" y2="645.3" stroke="#000" stroke-width="1.1" stroke-linecap="butt"/>
<text transform="translate(331.4,648.9) rotate(-90) scale(0.88,1)" y="3.24" font-size="9" text-anchor="end" fill="#231f20">1000</text>
<line x1="347.7" y1="642.3" x2="347.7" y2="645.3" stroke="#000" stroke-width="1.1" stroke-linecap="butt"/>
<text transform="translate(347.7,648.9) rotate(-90) scale(0.88,1)" y="3.24" font-size="9" text-anchor="end" fill="#231f20">10000</text>
<text transform="translate(305.8,533.7)" y="0" font-size="9.8" text-anchor="middle" textLength="34" lengthAdjust="spacingAndGlyphs" fill="#231f20" stroke="#231f20" stroke-width="0.12">Viability</text>
<text transform="translate(229.5,589) rotate(-90)" y="3.24" font-size="9" text-anchor="middle" textLength="35.5" lengthAdjust="spacingAndGlyphs" fill="#231f20">Viability %</text>
<text transform="translate(306.5,678.4)" y="0" font-size="9.6" text-anchor="middle" textLength="55" lengthAdjust="spacingAndGlyphs" fill="#231f20">Venetoclax (nM)</text>
<line x1="266.2" y1="560.54" x2="266.2" y2="596.23" stroke="#222" stroke-width="1.1" stroke-linecap="butt"/>
<line x1="263.9" y1="560.54" x2="268.5" y2="560.54" stroke="#222" stroke-width="1.1" stroke-linecap="butt"/>
<line x1="263.9" y1="596.23" x2="268.5" y2="596.23" stroke="#222" stroke-width="1.1" stroke-linecap="butt"/>
<line x1="282.4" y1="560.13" x2="282.4" y2="576.63" stroke="#222" stroke-width="1.1" stroke-linecap="butt"/>
<line x1="280.1" y1="560.13" x2="284.7" y2="560.13" stroke="#222" stroke-width="1.1" stroke-linecap="butt"/>
<line x1="280.1" y1="576.63" x2="284.7" y2="576.63" stroke="#222" stroke-width="1.1" stroke-linecap="butt"/>
<line x1="282.4" y1="596.86" x2="282.4" y2="619.16" stroke="#222" stroke-width="1.1" stroke-linecap="butt"/>
<line x1="280.1" y1="596.86" x2="284.7" y2="596.86" stroke="#222" stroke-width="1.1" stroke-linecap="butt"/>
<line x1="280.1" y1="619.16" x2="284.7" y2="619.16" stroke="#222" stroke-width="1.1" stroke-linecap="butt"/>
<line x1="299.2" y1="578.6" x2="299.2" y2="597.17" stroke="#222" stroke-width="1.1" stroke-linecap="butt"/>
<line x1="296.9" y1="578.6" x2="301.5" y2="578.6" stroke="#222" stroke-width="1.1" stroke-linecap="butt"/>
<line x1="296.9" y1="597.17" x2="301.5" y2="597.17" stroke="#222" stroke-width="1.1" stroke-linecap="butt"/>
<line x1="299.2" y1="610.76" x2="299.2" y2="620.93" stroke="#222" stroke-width="1.1" stroke-linecap="butt"/>
<line x1="296.9" y1="610.76" x2="301.5" y2="610.76" stroke="#222" stroke-width="1.1" stroke-linecap="butt"/>
<line x1="296.9" y1="620.93" x2="301.5" y2="620.93" stroke="#222" stroke-width="1.1" stroke-linecap="butt"/>
<line x1="299.2" y1="623.52" x2="299.2" y2="633.27" stroke="#222" stroke-width="1.1" stroke-linecap="butt"/>
<line x1="296.9" y1="623.52" x2="301.5" y2="623.52" stroke="#222" stroke-width="1.1" stroke-linecap="butt"/>
<line x1="296.9" y1="633.27" x2="301.5" y2="633.27" stroke="#222" stroke-width="1.1" stroke-linecap="butt"/>
<line x1="315.6" y1="635.04" x2="315.6" y2="640.22" stroke="#222" stroke-width="1.1" stroke-linecap="butt"/>
<line x1="313.3" y1="635.04" x2="317.9" y2="635.04" stroke="#222" stroke-width="1.1" stroke-linecap="butt"/>
<line x1="313.3" y1="640.22" x2="317.9" y2="640.22" stroke="#222" stroke-width="1.1" stroke-linecap="butt"/>
<line x1="331.4" y1="638.15" x2="331.4" y2="641.26" stroke="#222" stroke-width="1.1" stroke-linecap="butt"/>
<line x1="329.1" y1="638.15" x2="333.7" y2="638.15" stroke="#222" stroke-width="1.1" stroke-linecap="butt"/>
<line x1="329.1" y1="641.26" x2="333.7" y2="641.26" stroke="#222" stroke-width="1.1" stroke-linecap="butt"/>
<line x1="347.7" y1="637.63" x2="347.7" y2="640.74" stroke="#222" stroke-width="1.1" stroke-linecap="butt"/>
<line x1="345.4" y1="637.63" x2="350" y2="637.63" stroke="#222" stroke-width="1.1" stroke-linecap="butt"/>
<line x1="345.4" y1="640.74" x2="350" y2="640.74" stroke="#222" stroke-width="1.1" stroke-linecap="butt"/>
<polyline points="266.2,583.47 282.4,601.84 299.2,616.88 315.6,637.11 331.4,640.22 347.7,640.22" fill="none" stroke="#2fae3c" stroke-width="1.6" stroke-linejoin="round" stroke-dasharray="3.2,2.2"/>
<polygon points="266.2,581.19 263.88,585.18 268.52,585.18" fill="#2fae3c"/>
<polygon points="282.4,599.56 280.08,603.55 284.72,603.55" fill="#2fae3c"/>
<polygon points="299.2,614.6 296.88,618.59 301.52,618.59" fill="#2fae3c"/>
<polygon points="315.6,634.83 313.28,638.82 317.92,638.82" fill="#2fae3c"/>
<polygon points="331.4,637.94 329.08,641.93 333.72,641.93" fill="#2fae3c"/>
<polygon points="347.7,637.94 345.38,641.93 350.02,641.93" fill="#2fae3c"/>
<polyline points="266.2,592.29 282.4,608.37 299.2,628.29 315.6,641.26 331.4,641.26 347.7,641.26" fill="none" stroke="#0f4c8c" stroke-width="1.6" stroke-linejoin="round"/>
<circle cx="266.2" cy="592.29" r="2.1" fill="#0f4c8c"/>
<circle cx="282.4" cy="608.37" r="2.1" fill="#0f4c8c"/>
<circle cx="299.2" cy="628.29" r="2.1" fill="#0f4c8c"/>
<circle cx="315.6" cy="641.26" r="2.1" fill="#0f4c8c"/>
<circle cx="331.4" cy="641.26" r="2.1" fill="#0f4c8c"/>
<circle cx="347.7" cy="641.26" r="2.1" fill="#0f4c8c"/>
<polyline points="266.2,567.08 282.4,568.64 299.2,588.14 315.6,630.37 331.4,639.71 347.7,639.19" fill="none" stroke="#2fae3c" stroke-width="1.6" stroke-linejoin="round"/>
<circle cx="266.2" cy="567.08" r="2.1" fill="#2fae3c"/>
<circle cx="282.4" cy="568.64" r="2.1" fill="#2fae3c"/>
<circle cx="299.2" cy="588.14" r="2.1" fill="#2fae3c"/>
<circle cx="315.6" cy="630.37" r="2.1" fill="#2fae3c"/>
<circle cx="331.4" cy="639.71" r="2.1" fill="#2fae3c"/>
<circle cx="347.7" cy="639.19" r="2.1" fill="#2fae3c"/>
<line x1="320.2" y1="543.4" x2="334" y2="543.4" stroke="#0f4c8c" stroke-width="1.6" stroke-linecap="butt"/>
<circle cx="327.1" cy="543.4" r="2.1" fill="#0f4c8c"/>
<text transform="translate(338.4,543.4) scale(0.86,1)" y="3.1" font-size="8.6" text-anchor="start" fill="#231f20">UN</text>
<line x1="320.2" y1="552" x2="334" y2="552" stroke="#2fae3c" stroke-width="1.6" stroke-linecap="butt"/>
<circle cx="327.1" cy="552" r="2.1" fill="#2fae3c"/>
<text transform="translate(338.4,552) scale(0.86,1)" y="3.1" font-size="8.6" text-anchor="start" fill="#231f20">BCR</text>
<line x1="320.2" y1="560.6" x2="334" y2="560.6" stroke="#2fae3c" stroke-width="1.6" stroke-dasharray="3.2,2.2" stroke-linecap="butt"/>
<polygon points="327.1,558.32 324.78,562.31 329.42,562.31" fill="#2fae3c"/>
<text transform="translate(338.4,560.6) scale(0.86,1)" y="3.1" font-size="8.6" text-anchor="start" fill="#231f20">BCR+V9302</text>
<rect x="0.6" y="0.6" width="518.8" height="684.8" fill="none" stroke="#000" stroke-width="1.3"/>
</svg>
</body></html>
